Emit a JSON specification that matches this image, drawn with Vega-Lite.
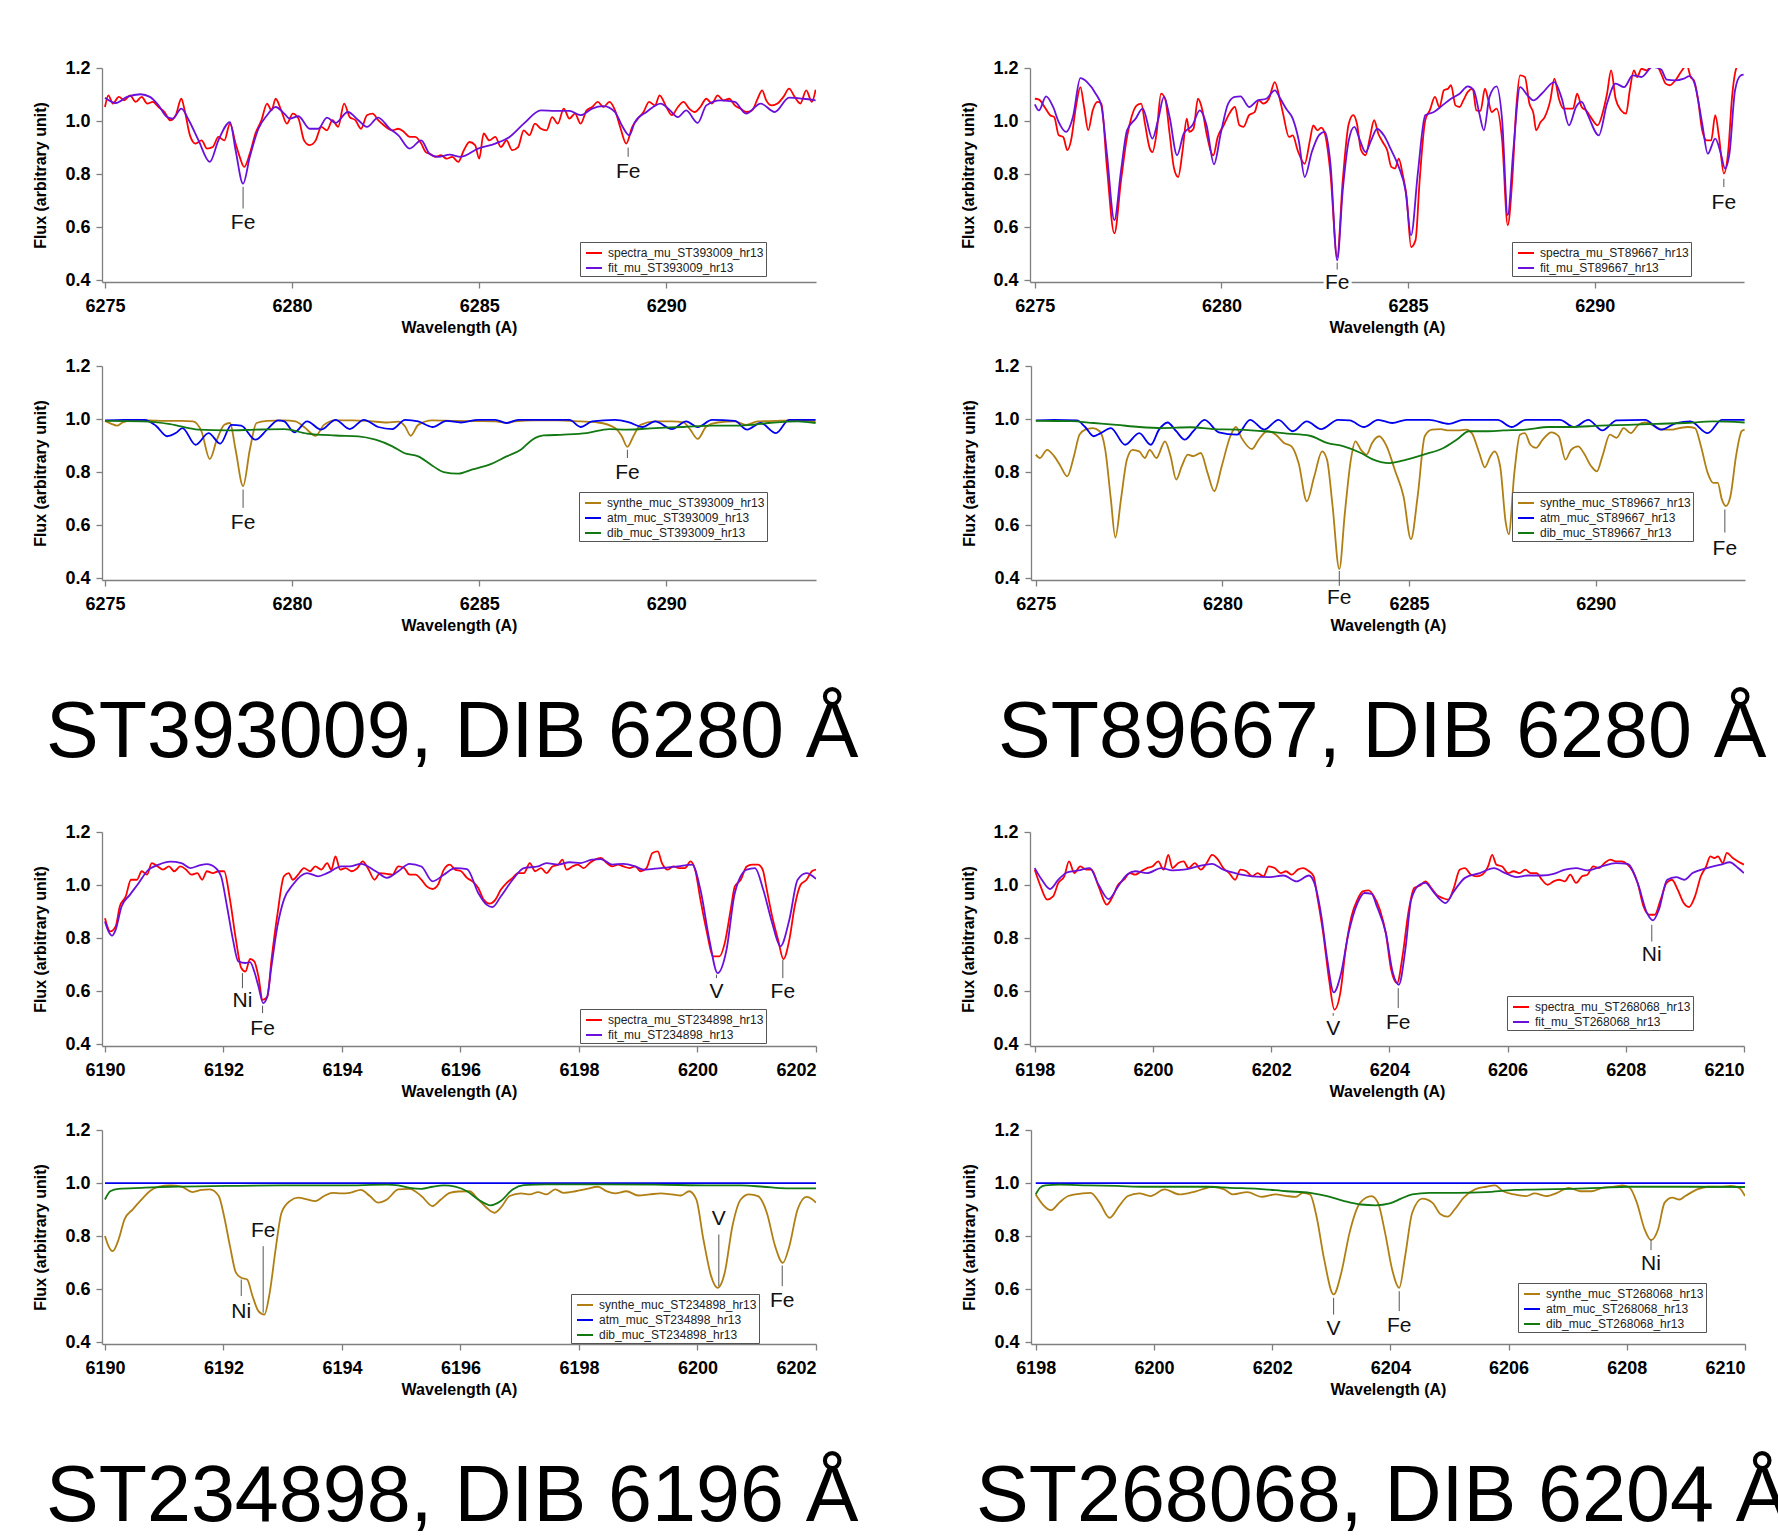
{
"$schema": "https://vega.github.io/schema/vega-lite/v6.json",
"padding": {"left": 32, "top": 59, "right": 0, "bottom": 0},
"config": {
  "view": {"stroke": null},
  "font": "Liberation Sans",
  "axis": {"grid": false, "domainColor": "#7f7f7f", "tickColor": "#7f7f7f", "domainWidth": 1.3, "tickWidth": 1.3, "tickSize": 6, "labelFont": "Liberation Sans", "labelFontSize": 18, "labelFontWeight": "bold", "labelColor": "#000000", "titleFont": "Liberation Sans", "titleFontSize": 16, "titleFontWeight": "bold", "titleColor": "#000000"},
  "axisX": {"labelPadding": 9, "titlePadding": 4},
  "axisY": {"labelPadding": 6, "titlePadding": 16},
  "legend": {"orient": "none", "symbolType": "stroke", "symbolStrokeWidth": 2, "symbolSize": 256, "symbolOffset": 3, "labelFont": "Liberation Sans", "labelFontSize": 12, "labelColor": "#222222", "fillColor": "#ffffff", "strokeColor": "#555555", "padding": 2, "rowPadding": -2, "labelOffset": 5, "labelLimit": 400},
  "title": {"font": "Liberation Sans", "fontSize": 79, "fontWeight": "normal", "color": "#000000", "orient": "bottom", "anchor": "start", "frame": "group", "baseline": "alphabetic", "offset": 62}
},
"datasets": {
"d1": [
{"s":"spectra","x":6275.00,"y":1.053},{"s":"spectra","x":6275.09,"y":1.097},{"s":"spectra","x":6275.21,"y":1.066},{"s":"spectra","x":6275.37,"y":1.091},{"s":"spectra","x":6275.52,"y":1.078},{"s":"spectra","x":6275.67,"y":1.097},{"s":"spectra","x":6275.82,"y":1.072},{"s":"spectra","x":6275.98,"y":1.091},{"s":"spectra","x":6276.13,"y":1.066},{"s":"spectra","x":6276.28,"y":1.072},{"s":"spectra","x":6276.43,"y":1.053},{"s":"spectra","x":6276.59,"y":1.034},{"s":"spectra","x":6276.74,"y":1.003},{"s":"spectra","x":6276.89,"y":1.022},{"s":"spectra","x":6277.04,"y":1.084},{"s":"spectra","x":6277.13,"y":1.040},{"s":"spectra","x":6277.27,"y":0.946},{"s":"spectra","x":6277.42,"y":0.915},{"s":"spectra","x":6277.58,"y":0.927},{"s":"spectra","x":6277.73,"y":0.896},{"s":"spectra","x":6277.88,"y":0.902},{"s":"spectra","x":6278.03,"y":0.940},{"s":"spectra","x":6278.19,"y":0.927},{"s":"spectra","x":6278.34,"y":0.990},{"s":"spectra","x":6278.49,"y":0.915},{"s":"spectra","x":6278.60,"y":0.865},{"s":"spectra","x":6278.72,"y":0.827},{"s":"spectra","x":6278.87,"y":0.877},{"s":"spectra","x":6279.02,"y":0.953},{"s":"spectra","x":6279.18,"y":1.003},{"s":"spectra","x":6279.33,"y":1.066},{"s":"spectra","x":6279.45,"y":1.040},{"s":"spectra","x":6279.56,"y":1.084},{"s":"spectra","x":6279.71,"y":1.040},{"s":"spectra","x":6279.86,"y":0.990},{"s":"spectra","x":6280.02,"y":1.028},{"s":"spectra","x":6280.17,"y":1.009},{"s":"spectra","x":6280.32,"y":0.927},{"s":"spectra","x":6280.47,"y":0.909},{"s":"spectra","x":6280.63,"y":0.927},{"s":"spectra","x":6280.78,"y":0.978},{"s":"spectra","x":6280.93,"y":0.965},{"s":"spectra","x":6281.08,"y":1.003},{"s":"spectra","x":6281.23,"y":0.978},{"s":"spectra","x":6281.39,"y":1.066},{"s":"spectra","x":6281.54,"y":1.015},{"s":"spectra","x":6281.69,"y":1.003},{"s":"spectra","x":6281.84,"y":0.971},{"s":"spectra","x":6282.00,"y":1.022},{"s":"spectra","x":6282.15,"y":1.028},{"s":"spectra","x":6282.30,"y":1.003},{"s":"spectra","x":6282.45,"y":0.984},{"s":"spectra","x":6282.68,"y":0.965},{"s":"spectra","x":6282.84,"y":0.971},{"s":"spectra","x":6282.99,"y":0.959},{"s":"spectra","x":6283.14,"y":0.940},{"s":"spectra","x":6283.29,"y":0.940},{"s":"spectra","x":6283.45,"y":0.915},{"s":"spectra","x":6283.57,"y":0.883},{"s":"spectra","x":6283.67,"y":0.877},{"s":"spectra","x":6283.83,"y":0.865},{"s":"spectra","x":6283.98,"y":0.871},{"s":"spectra","x":6284.13,"y":0.858},{"s":"spectra","x":6284.28,"y":0.865},{"s":"spectra","x":6284.44,"y":0.846},{"s":"spectra","x":6284.59,"y":0.890},{"s":"spectra","x":6284.74,"y":0.921},{"s":"spectra","x":6284.89,"y":0.909},{"s":"spectra","x":6285.00,"y":0.858},{"s":"spectra","x":6285.12,"y":0.953},{"s":"spectra","x":6285.27,"y":0.927},{"s":"spectra","x":6285.43,"y":0.940},{"s":"spectra","x":6285.58,"y":0.902},{"s":"spectra","x":6285.73,"y":0.927},{"s":"spectra","x":6285.88,"y":0.890},{"s":"spectra","x":6286.04,"y":0.902},{"s":"spectra","x":6286.19,"y":0.965},{"s":"spectra","x":6286.34,"y":0.946},{"s":"spectra","x":6286.49,"y":0.990},{"s":"spectra","x":6286.65,"y":0.971},{"s":"spectra","x":6286.80,"y":0.965},{"s":"spectra","x":6286.95,"y":1.015},{"s":"spectra","x":6287.10,"y":0.990},{"s":"spectra","x":6287.26,"y":1.047},{"s":"spectra","x":6287.41,"y":1.009},{"s":"spectra","x":6287.56,"y":1.028},{"s":"spectra","x":6287.71,"y":0.990},{"s":"spectra","x":6287.87,"y":1.040},{"s":"spectra","x":6288.02,"y":1.053},{"s":"spectra","x":6288.17,"y":1.072},{"s":"spectra","x":6288.32,"y":1.053},{"s":"spectra","x":6288.48,"y":1.072},{"s":"spectra","x":6288.63,"y":1.040},{"s":"spectra","x":6288.78,"y":0.971},{"s":"spectra","x":6288.93,"y":0.915},{"s":"spectra","x":6289.09,"y":0.978},{"s":"spectra","x":6289.24,"y":1.009},{"s":"spectra","x":6289.39,"y":1.034},{"s":"spectra","x":6289.54,"y":1.072},{"s":"spectra","x":6289.70,"y":1.059},{"s":"spectra","x":6289.82,"y":1.097},{"s":"spectra","x":6290.00,"y":1.053},{"s":"spectra","x":6290.15,"y":1.022},{"s":"spectra","x":6290.31,"y":1.053},{"s":"spectra","x":6290.46,"y":1.072},{"s":"spectra","x":6290.61,"y":1.047},{"s":"spectra","x":6290.76,"y":1.034},{"s":"spectra","x":6290.91,"y":1.053},{"s":"spectra","x":6291.07,"y":1.084},{"s":"spectra","x":6291.22,"y":1.066},{"s":"spectra","x":6291.37,"y":1.097},{"s":"spectra","x":6291.52,"y":1.078},{"s":"spectra","x":6291.68,"y":1.084},{"s":"spectra","x":6291.83,"y":1.059},{"s":"spectra","x":6291.98,"y":1.047},{"s":"spectra","x":6292.13,"y":1.034},{"s":"spectra","x":6292.29,"y":1.040},{"s":"spectra","x":6292.44,"y":1.084},{"s":"spectra","x":6292.56,"y":1.116},{"s":"spectra","x":6292.67,"y":1.078},{"s":"spectra","x":6292.82,"y":1.059},{"s":"spectra","x":6292.97,"y":1.066},{"s":"spectra","x":6293.13,"y":1.091},{"s":"spectra","x":6293.28,"y":1.122},{"s":"spectra","x":6293.43,"y":1.091},{"s":"spectra","x":6293.58,"y":1.066},{"s":"spectra","x":6293.74,"y":1.116},{"s":"spectra","x":6293.89,"y":1.072},{"s":"spectra","x":6293.99,"y":1.118},
{"s":"fit","x":6275.00,"y":1.088},{"s":"fit","x":6275.29,"y":1.068},{"s":"fit","x":6275.59,"y":1.091},{"s":"fit","x":6275.95,"y":1.101},{"s":"fit","x":6276.20,"y":1.091},{"s":"fit","x":6276.43,"y":1.059},{"s":"fit","x":6276.66,"y":1.015},{"s":"fit","x":6276.81,"y":1.009},{"s":"fit","x":6277.04,"y":1.047},{"s":"fit","x":6277.24,"y":1.003},{"s":"fit","x":6277.50,"y":0.927},{"s":"fit","x":6277.80,"y":0.846},{"s":"fit","x":6278.03,"y":0.927},{"s":"fit","x":6278.34,"y":0.996},{"s":"fit","x":6278.49,"y":0.890},{"s":"fit","x":6278.69,"y":0.764},{"s":"fit","x":6278.87,"y":0.865},{"s":"fit","x":6279.10,"y":0.971},{"s":"fit","x":6279.33,"y":1.022},{"s":"fit","x":6279.56,"y":1.053},{"s":"fit","x":6279.79,"y":1.028},{"s":"fit","x":6279.94,"y":1.009},{"s":"fit","x":6280.17,"y":1.018},{"s":"fit","x":6280.47,"y":0.971},{"s":"fit","x":6280.70,"y":0.971},{"s":"fit","x":6280.93,"y":1.013},{"s":"fit","x":6281.16,"y":0.993},{"s":"fit","x":6281.49,"y":1.034},{"s":"fit","x":6281.77,"y":1.003},{"s":"fit","x":6282.00,"y":0.978},{"s":"fit","x":6282.30,"y":1.013},{"s":"fit","x":6282.61,"y":0.971},{"s":"fit","x":6282.84,"y":0.946},{"s":"fit","x":6283.14,"y":0.896},{"s":"fit","x":6283.45,"y":0.927},{"s":"fit","x":6283.67,"y":0.877},{"s":"fit","x":6283.90,"y":0.865},{"s":"fit","x":6284.21,"y":0.873},{"s":"fit","x":6284.51,"y":0.865},{"s":"fit","x":6284.97,"y":0.896},{"s":"fit","x":6285.43,"y":0.915},{"s":"fit","x":6285.81,"y":0.940},{"s":"fit","x":6286.19,"y":0.990},{"s":"fit","x":6286.65,"y":1.040},{"s":"fit","x":6287.03,"y":1.038},{"s":"fit","x":6287.41,"y":1.038},{"s":"fit","x":6287.71,"y":1.022},{"s":"fit","x":6288.02,"y":1.047},{"s":"fit","x":6288.32,"y":1.056},{"s":"fit","x":6288.63,"y":1.034},{"s":"fit","x":6288.81,"y":0.984},{"s":"fit","x":6289.01,"y":0.946},{"s":"fit","x":6289.16,"y":0.996},{"s":"fit","x":6289.47,"y":1.034},{"s":"fit","x":6289.85,"y":1.066},{"s":"fit","x":6290.08,"y":1.043},{"s":"fit","x":6290.31,"y":1.015},{"s":"fit","x":6290.53,"y":1.040},{"s":"fit","x":6290.84,"y":0.993},{"s":"fit","x":6291.07,"y":1.059},{"s":"fit","x":6291.45,"y":1.078},{"s":"fit","x":6291.83,"y":1.072},{"s":"fit","x":6292.13,"y":1.028},{"s":"fit","x":6292.52,"y":1.066},{"s":"fit","x":6292.90,"y":1.034},{"s":"fit","x":6293.28,"y":1.088},{"s":"fit","x":6293.66,"y":1.084},{"s":"fit","x":6293.99,"y":1.078}
],
"d2": [
{"s":"spectra","x":6275.00,"y":1.084},{"s":"spectra","x":6275.11,"y":1.081},{"s":"spectra","x":6275.26,"y":1.053},{"s":"spectra","x":6275.41,"y":1.022},{"s":"spectra","x":6275.52,"y":1.015},{"s":"spectra","x":6275.64,"y":0.946},{"s":"spectra","x":6275.76,"y":0.940},{"s":"spectra","x":6275.87,"y":0.890},{"s":"spectra","x":6275.97,"y":0.927},{"s":"spectra","x":6276.10,"y":1.053},{"s":"spectra","x":6276.22,"y":1.128},{"s":"spectra","x":6276.32,"y":1.053},{"s":"spectra","x":6276.43,"y":0.965},{"s":"spectra","x":6276.55,"y":1.040},{"s":"spectra","x":6276.68,"y":1.072},{"s":"spectra","x":6276.78,"y":1.066},{"s":"spectra","x":6276.93,"y":0.827},{"s":"spectra","x":6277.13,"y":0.576},{"s":"spectra","x":6277.31,"y":0.777},{"s":"spectra","x":6277.47,"y":0.940},{"s":"spectra","x":6277.59,"y":1.015},{"s":"spectra","x":6277.73,"y":1.059},{"s":"spectra","x":6277.85,"y":1.066},{"s":"spectra","x":6277.95,"y":0.990},{"s":"spectra","x":6278.08,"y":0.896},{"s":"spectra","x":6278.15,"y":0.883},{"s":"spectra","x":6278.26,"y":0.953},{"s":"spectra","x":6278.38,"y":1.103},{"s":"spectra","x":6278.49,"y":1.084},{"s":"spectra","x":6278.61,"y":0.953},{"s":"spectra","x":6278.73,"y":0.821},{"s":"spectra","x":6278.84,"y":0.789},{"s":"spectra","x":6278.96,"y":0.890},{"s":"spectra","x":6279.07,"y":1.009},{"s":"spectra","x":6279.14,"y":0.959},{"s":"spectra","x":6279.25,"y":0.971},{"s":"spectra","x":6279.37,"y":1.084},{"s":"spectra","x":6279.49,"y":1.040},{"s":"spectra","x":6279.60,"y":0.953},{"s":"spectra","x":6279.78,"y":0.871},{"s":"spectra","x":6279.90,"y":0.940},{"s":"spectra","x":6280.06,"y":0.984},{"s":"spectra","x":6280.21,"y":1.028},{"s":"spectra","x":6280.36,"y":1.053},{"s":"spectra","x":6280.48,"y":0.984},{"s":"spectra","x":6280.59,"y":0.978},{"s":"spectra","x":6280.74,"y":1.022},{"s":"spectra","x":6280.89,"y":1.034},{"s":"spectra","x":6281.00,"y":1.078},{"s":"spectra","x":6281.12,"y":1.066},{"s":"spectra","x":6281.27,"y":1.084},{"s":"spectra","x":6281.43,"y":1.147},{"s":"spectra","x":6281.55,"y":1.091},{"s":"spectra","x":6281.65,"y":1.028},{"s":"spectra","x":6281.81,"y":0.940},{"s":"spectra","x":6281.91,"y":0.946},{"s":"spectra","x":6282.04,"y":0.890},{"s":"spectra","x":6282.23,"y":0.839},{"s":"spectra","x":6282.37,"y":0.927},{"s":"spectra","x":6282.46,"y":0.984},{"s":"spectra","x":6282.57,"y":0.965},{"s":"spectra","x":6282.67,"y":0.975},{"s":"spectra","x":6282.77,"y":0.953},{"s":"spectra","x":6282.92,"y":0.802},{"s":"spectra","x":6283.10,"y":0.488},{"s":"spectra","x":6283.25,"y":0.777},{"s":"spectra","x":6283.41,"y":0.990},{"s":"spectra","x":6283.53,"y":1.022},{"s":"spectra","x":6283.63,"y":0.990},{"s":"spectra","x":6283.74,"y":0.890},{"s":"spectra","x":6283.86,"y":0.871},{"s":"spectra","x":6283.98,"y":0.940},{"s":"spectra","x":6284.09,"y":1.003},{"s":"spectra","x":6284.20,"y":0.953},{"s":"spectra","x":6284.32,"y":0.921},{"s":"spectra","x":6284.44,"y":0.890},{"s":"spectra","x":6284.55,"y":0.827},{"s":"spectra","x":6284.65,"y":0.821},{"s":"spectra","x":6284.75,"y":0.858},{"s":"spectra","x":6284.85,"y":0.802},{"s":"spectra","x":6284.96,"y":0.714},{"s":"spectra","x":6285.08,"y":0.525},{"s":"spectra","x":6285.20,"y":0.551},{"s":"spectra","x":6285.31,"y":0.777},{"s":"spectra","x":6285.46,"y":1.003},{"s":"spectra","x":6285.58,"y":1.040},{"s":"spectra","x":6285.72,"y":1.091},{"s":"spectra","x":6285.84,"y":1.053},{"s":"spectra","x":6285.96,"y":1.116},{"s":"spectra","x":6286.07,"y":1.122},{"s":"spectra","x":6286.15,"y":1.135},{"s":"spectra","x":6286.27,"y":1.059},{"s":"spectra","x":6286.38,"y":1.053},{"s":"spectra","x":6286.48,"y":1.078},{"s":"spectra","x":6286.60,"y":1.110},{"s":"spectra","x":6286.73,"y":1.122},{"s":"spectra","x":6286.83,"y":1.040},{"s":"spectra","x":6286.94,"y":1.038},{"s":"spectra","x":6287.06,"y":1.122},{"s":"spectra","x":6287.15,"y":1.078},{"s":"spectra","x":6287.24,"y":1.034},{"s":"spectra","x":6287.37,"y":1.047},{"s":"spectra","x":6287.52,"y":0.927},{"s":"spectra","x":6287.67,"y":0.607},{"s":"spectra","x":6287.79,"y":0.777},{"s":"spectra","x":6287.90,"y":1.053},{"s":"spectra","x":6288.00,"y":1.172},{"s":"spectra","x":6288.13,"y":1.166},{"s":"spectra","x":6288.25,"y":1.066},{"s":"spectra","x":6288.36,"y":1.028},{"s":"spectra","x":6288.43,"y":0.965},{"s":"spectra","x":6288.55,"y":0.996},{"s":"spectra","x":6288.66,"y":1.015},{"s":"spectra","x":6288.81,"y":1.078},{"s":"spectra","x":6288.92,"y":1.160},{"s":"spectra","x":6289.04,"y":1.084},{"s":"spectra","x":6289.16,"y":1.047},{"s":"spectra","x":6289.27,"y":1.047},{"s":"spectra","x":6289.42,"y":1.047},{"s":"spectra","x":6289.53,"y":1.103},{"s":"spectra","x":6289.65,"y":1.053},{"s":"spectra","x":6289.77,"y":1.040},{"s":"spectra","x":6289.92,"y":1.009},{"s":"spectra","x":6290.08,"y":0.984},{"s":"spectra","x":6290.23,"y":1.040},{"s":"spectra","x":6290.33,"y":1.103},{"s":"spectra","x":6290.44,"y":1.191},{"s":"spectra","x":6290.56,"y":1.084},{"s":"spectra","x":6290.71,"y":1.040},{"s":"spectra","x":6290.84,"y":1.028},{"s":"spectra","x":6290.94,"y":1.116},{"s":"spectra","x":6291.05,"y":1.191},{"s":"spectra","x":6291.14,"y":1.166},{"s":"spectra","x":6291.25,"y":1.197},{"s":"spectra","x":6291.40,"y":1.191},{"s":"spectra","x":6291.51,"y":1.210},{"s":"spectra","x":6291.63,"y":1.216},{"s":"spectra","x":6291.78,"y":1.179},{"s":"spectra","x":6291.90,"y":1.141},{"s":"spectra","x":6292.01,"y":1.135},{"s":"spectra","x":6292.16,"y":1.153},{"s":"spectra","x":6292.31,"y":1.185},{"s":"spectra","x":6292.47,"y":1.210},{"s":"spectra","x":6292.57,"y":1.166},{"s":"spectra","x":6292.66,"y":1.153},{"s":"spectra","x":6292.77,"y":1.078},{"s":"spectra","x":6292.88,"y":0.965},{"s":"spectra","x":6293.00,"y":0.927},{"s":"spectra","x":6293.12,"y":0.927},{"s":"spectra","x":6293.23,"y":1.022},{"s":"spectra","x":6293.33,"y":0.940},{"s":"spectra","x":6293.46,"y":0.802},{"s":"spectra","x":6293.58,"y":0.890},{"s":"spectra","x":6293.68,"y":1.091},{"s":"spectra","x":6293.81,"y":1.204},{"s":"spectra","x":6293.91,"y":1.216},{"s":"spectra","x":6293.99,"y":1.216},
{"s":"fit","x":6275.00,"y":1.063},{"s":"fit","x":6275.11,"y":1.040},{"s":"fit","x":6275.30,"y":1.093},{"s":"fit","x":6275.49,"y":1.053},{"s":"fit","x":6275.64,"y":0.996},{"s":"fit","x":6275.84,"y":0.959},{"s":"fit","x":6276.02,"y":1.015},{"s":"fit","x":6276.22,"y":1.162},{"s":"fit","x":6276.40,"y":1.147},{"s":"fit","x":6276.63,"y":1.103},{"s":"fit","x":6276.78,"y":1.059},{"s":"fit","x":6276.93,"y":0.877},{"s":"fit","x":6277.13,"y":0.626},{"s":"fit","x":6277.31,"y":0.814},{"s":"fit","x":6277.47,"y":0.965},{"s":"fit","x":6277.70,"y":1.009},{"s":"fit","x":6277.89,"y":1.047},{"s":"fit","x":6278.15,"y":0.934},{"s":"fit","x":6278.30,"y":1.003},{"s":"fit","x":6278.46,"y":1.091},{"s":"fit","x":6278.61,"y":1.015},{"s":"fit","x":6278.81,"y":0.871},{"s":"fit","x":6278.99,"y":0.953},{"s":"fit","x":6279.22,"y":0.984},{"s":"fit","x":6279.42,"y":1.040},{"s":"fit","x":6279.60,"y":0.984},{"s":"fit","x":6279.80,"y":0.837},{"s":"fit","x":6279.98,"y":0.953},{"s":"fit","x":6280.18,"y":1.066},{"s":"fit","x":6280.36,"y":1.091},{"s":"fit","x":6280.51,"y":1.093},{"s":"fit","x":6280.74,"y":1.053},{"s":"fit","x":6280.97,"y":1.078},{"s":"fit","x":6281.20,"y":1.084},{"s":"fit","x":6281.43,"y":1.116},{"s":"fit","x":6281.58,"y":1.084},{"s":"fit","x":6281.73,"y":1.047},{"s":"fit","x":6281.91,"y":1.009},{"s":"fit","x":6282.07,"y":0.927},{"s":"fit","x":6282.23,"y":0.789},{"s":"fit","x":6282.42,"y":0.883},{"s":"fit","x":6282.61,"y":0.946},{"s":"fit","x":6282.77,"y":0.959},{"s":"fit","x":6282.92,"y":0.839},{"s":"fit","x":6283.10,"y":0.475},{"s":"fit","x":6283.25,"y":0.739},{"s":"fit","x":6283.41,"y":0.927},{"s":"fit","x":6283.56,"y":0.978},{"s":"fit","x":6283.71,"y":0.927},{"s":"fit","x":6283.86,"y":0.883},{"s":"fit","x":6284.01,"y":0.927},{"s":"fit","x":6284.17,"y":0.971},{"s":"fit","x":6284.35,"y":0.946},{"s":"fit","x":6284.55,"y":0.890},{"s":"fit","x":6284.75,"y":0.827},{"s":"fit","x":6284.93,"y":0.739},{"s":"fit","x":6285.08,"y":0.569},{"s":"fit","x":6285.26,"y":0.802},{"s":"fit","x":6285.46,"y":1.022},{"s":"fit","x":6285.69,"y":1.034},{"s":"fit","x":6285.92,"y":1.059},{"s":"fit","x":6286.15,"y":1.084},{"s":"fit","x":6286.38,"y":1.103},{"s":"fit","x":6286.60,"y":1.131},{"s":"fit","x":6286.76,"y":1.116},{"s":"fit","x":6286.91,"y":1.028},{"s":"fit","x":6287.03,"y":0.965},{"s":"fit","x":6287.18,"y":1.091},{"s":"fit","x":6287.37,"y":1.131},{"s":"fit","x":6287.52,"y":1.003},{"s":"fit","x":6287.67,"y":0.645},{"s":"fit","x":6287.82,"y":0.890},{"s":"fit","x":6288.00,"y":1.128},{"s":"fit","x":6288.20,"y":1.097},{"s":"fit","x":6288.36,"y":1.078},{"s":"fit","x":6288.58,"y":1.103},{"s":"fit","x":6288.92,"y":1.147},{"s":"fit","x":6289.12,"y":1.084},{"s":"fit","x":6289.31,"y":0.984},{"s":"fit","x":6289.50,"y":1.053},{"s":"fit","x":6289.65,"y":1.072},{"s":"fit","x":6289.80,"y":1.028},{"s":"fit","x":6290.11,"y":0.946},{"s":"fit","x":6290.33,"y":1.066},{"s":"fit","x":6290.56,"y":1.141},{"s":"fit","x":6290.79,"y":1.128},{"s":"fit","x":6291.02,"y":1.172},{"s":"fit","x":6291.25,"y":1.166},{"s":"fit","x":6291.55,"y":1.204},{"s":"fit","x":6291.78,"y":1.194},{"s":"fit","x":6291.93,"y":1.156},{"s":"fit","x":6292.16,"y":1.153},{"s":"fit","x":6292.39,"y":1.160},{"s":"fit","x":6292.54,"y":1.169},{"s":"fit","x":6292.69,"y":1.135},{"s":"fit","x":6292.88,"y":0.990},{"s":"fit","x":6293.03,"y":0.877},{"s":"fit","x":6293.23,"y":0.934},{"s":"fit","x":6293.38,"y":0.877},{"s":"fit","x":6293.49,"y":0.821},{"s":"fit","x":6293.61,"y":0.877},{"s":"fit","x":6293.76,"y":1.116},{"s":"fit","x":6293.91,"y":1.172},{"s":"fit","x":6293.99,"y":1.175}
],
"d3": [
{"s":"synthe","x":6275.00,"y":0.993},{"s":"synthe","x":6275.17,"y":0.982},{"s":"synthe","x":6275.32,"y":0.975},{"s":"synthe","x":6275.47,"y":0.987},{"s":"synthe","x":6275.75,"y":0.995},{"s":"synthe","x":6276.13,"y":0.995},{"s":"synthe","x":6276.59,"y":0.993},{"s":"synthe","x":6277.04,"y":0.993},{"s":"synthe","x":6277.35,"y":0.991},{"s":"synthe","x":6277.58,"y":0.953},{"s":"synthe","x":6277.80,"y":0.849},{"s":"synthe","x":6277.99,"y":0.922},{"s":"synthe","x":6278.19,"y":0.978},{"s":"synthe","x":6278.34,"y":0.985},{"s":"synthe","x":6278.49,"y":0.884},{"s":"synthe","x":6278.69,"y":0.747},{"s":"synthe","x":6278.87,"y":0.884},{"s":"synthe","x":6279.05,"y":0.985},{"s":"synthe","x":6279.33,"y":0.993},{"s":"synthe","x":6279.79,"y":0.995},{"s":"synthe","x":6280.09,"y":0.991},{"s":"synthe","x":6280.32,"y":0.970},{"s":"synthe","x":6280.63,"y":0.937},{"s":"synthe","x":6280.85,"y":0.978},{"s":"synthe","x":6281.16,"y":0.995},{"s":"synthe","x":6281.62,"y":0.995},{"s":"synthe","x":6282.07,"y":0.992},{"s":"synthe","x":6282.53,"y":0.987},{"s":"synthe","x":6282.84,"y":0.990},{"s":"synthe","x":6283.02,"y":0.972},{"s":"synthe","x":6283.17,"y":0.937},{"s":"synthe","x":6283.37,"y":0.978},{"s":"synthe","x":6283.75,"y":0.995},{"s":"synthe","x":6284.36,"y":0.993},{"s":"synthe","x":6284.97,"y":0.992},{"s":"synthe","x":6285.43,"y":0.991},{"s":"synthe","x":6285.73,"y":0.985},{"s":"synthe","x":6285.96,"y":0.991},{"s":"synthe","x":6286.49,"y":0.995},{"s":"synthe","x":6287.10,"y":0.995},{"s":"synthe","x":6287.71,"y":0.991},{"s":"synthe","x":6288.17,"y":0.987},{"s":"synthe","x":6288.63,"y":0.966},{"s":"synthe","x":6288.81,"y":0.935},{"s":"synthe","x":6288.96,"y":0.895},{"s":"synthe","x":6289.12,"y":0.935},{"s":"synthe","x":6289.31,"y":0.978},{"s":"synthe","x":6289.70,"y":0.991},{"s":"synthe","x":6290.15,"y":0.991},{"s":"synthe","x":6290.46,"y":0.987},{"s":"synthe","x":6290.64,"y":0.960},{"s":"synthe","x":6290.84,"y":0.925},{"s":"synthe","x":6291.07,"y":0.972},{"s":"synthe","x":6291.37,"y":0.987},{"s":"synthe","x":6291.83,"y":0.991},{"s":"synthe","x":6292.13,"y":0.978},{"s":"synthe","x":6292.44,"y":0.991},{"s":"synthe","x":6292.90,"y":0.993},{"s":"synthe","x":6293.35,"y":0.995},{"s":"synthe","x":6293.99,"y":0.991},
{"s":"atm","x":6275.00,"y":0.995},{"s":"atm","x":6275.52,"y":0.997},{"s":"atm","x":6276.05,"y":0.997},{"s":"atm","x":6276.36,"y":0.975},{"s":"atm","x":6276.66,"y":0.935},{"s":"atm","x":6276.89,"y":0.947},{"s":"atm","x":6277.07,"y":0.966},{"s":"atm","x":6277.42,"y":0.903},{"s":"atm","x":6277.77,"y":0.947},{"s":"atm","x":6278.08,"y":0.907},{"s":"atm","x":6278.38,"y":0.978},{"s":"atm","x":6278.64,"y":0.975},{"s":"atm","x":6279.02,"y":0.922},{"s":"atm","x":6279.33,"y":0.960},{"s":"atm","x":6279.63,"y":0.995},{"s":"atm","x":6279.79,"y":0.991},{"s":"atm","x":6280.06,"y":0.950},{"s":"atm","x":6280.40,"y":0.991},{"s":"atm","x":6280.78,"y":0.960},{"s":"atm","x":6281.16,"y":0.997},{"s":"atm","x":6281.54,"y":0.962},{"s":"atm","x":6281.92,"y":0.997},{"s":"atm","x":6282.30,"y":0.970},{"s":"atm","x":6282.68,"y":0.962},{"s":"atm","x":6283.02,"y":0.997},{"s":"atm","x":6283.37,"y":0.991},{"s":"atm","x":6283.75,"y":0.970},{"s":"atm","x":6284.13,"y":0.993},{"s":"atm","x":6284.51,"y":0.987},{"s":"atm","x":6284.97,"y":0.997},{"s":"atm","x":6285.43,"y":0.997},{"s":"atm","x":6285.73,"y":0.985},{"s":"atm","x":6286.04,"y":0.997},{"s":"atm","x":6287.41,"y":0.997},{"s":"atm","x":6287.71,"y":0.970},{"s":"atm","x":6288.02,"y":0.991},{"s":"atm","x":6288.63,"y":0.997},{"s":"atm","x":6289.01,"y":0.987},{"s":"atm","x":6289.36,"y":0.970},{"s":"atm","x":6289.70,"y":0.991},{"s":"atm","x":6290.15,"y":0.962},{"s":"atm","x":6290.53,"y":0.991},{"s":"atm","x":6290.84,"y":0.970},{"s":"atm","x":6291.22,"y":0.997},{"s":"atm","x":6291.83,"y":0.993},{"s":"atm","x":6292.16,"y":0.960},{"s":"atm","x":6292.52,"y":0.985},{"s":"atm","x":6292.93,"y":0.947},{"s":"atm","x":6293.28,"y":0.997},{"s":"atm","x":6293.99,"y":0.997},
{"s":"dib","x":6275.00,"y":0.993},{"s":"dib","x":6275.98,"y":0.991},{"s":"dib","x":6276.74,"y":0.981},{"s":"dib","x":6277.50,"y":0.960},{"s":"dib","x":6278.26,"y":0.957},{"s":"dib","x":6279.02,"y":0.960},{"s":"dib","x":6279.79,"y":0.962},{"s":"dib","x":6280.40,"y":0.945},{"s":"dib","x":6281.16,"y":0.938},{"s":"dib","x":6281.77,"y":0.935},{"s":"dib","x":6282.23,"y":0.922},{"s":"dib","x":6282.68,"y":0.897},{"s":"dib","x":6282.99,"y":0.872},{"s":"dib","x":6283.37,"y":0.859},{"s":"dib","x":6283.75,"y":0.824},{"s":"dib","x":6284.05,"y":0.800},{"s":"dib","x":6284.44,"y":0.794},{"s":"dib","x":6284.82,"y":0.810},{"s":"dib","x":6285.27,"y":0.828},{"s":"dib","x":6285.73,"y":0.859},{"s":"dib","x":6286.11,"y":0.884},{"s":"dib","x":6286.42,"y":0.922},{"s":"dib","x":6286.72,"y":0.938},{"s":"dib","x":6287.26,"y":0.941},{"s":"dib","x":6287.87,"y":0.947},{"s":"dib","x":6288.48,"y":0.962},{"s":"dib","x":6288.93,"y":0.960},{"s":"dib","x":6289.70,"y":0.966},{"s":"dib","x":6290.46,"y":0.970},{"s":"dib","x":6291.22,"y":0.975},{"s":"dib","x":6291.98,"y":0.975},{"s":"dib","x":6292.74,"y":0.985},{"s":"dib","x":6293.51,"y":0.991},{"s":"dib","x":6293.99,"y":0.985}
],
"d4": [
{"s":"synthe","x":6275.00,"y":0.866},{"s":"synthe","x":6275.11,"y":0.853},{"s":"synthe","x":6275.30,"y":0.884},{"s":"synthe","x":6275.49,"y":0.860},{"s":"synthe","x":6275.64,"y":0.828},{"s":"synthe","x":6275.84,"y":0.784},{"s":"synthe","x":6276.02,"y":0.860},{"s":"synthe","x":6276.17,"y":0.941},{"s":"synthe","x":6276.32,"y":0.960},{"s":"synthe","x":6276.52,"y":0.966},{"s":"synthe","x":6276.71,"y":0.954},{"s":"synthe","x":6276.86,"y":0.884},{"s":"synthe","x":6277.01,"y":0.697},{"s":"synthe","x":6277.13,"y":0.553},{"s":"synthe","x":6277.28,"y":0.697},{"s":"synthe","x":6277.44,"y":0.847},{"s":"synthe","x":6277.59,"y":0.884},{"s":"synthe","x":6277.77,"y":0.878},{"s":"synthe","x":6277.92,"y":0.853},{"s":"synthe","x":6278.05,"y":0.884},{"s":"synthe","x":6278.23,"y":0.853},{"s":"synthe","x":6278.46,"y":0.916},{"s":"synthe","x":6278.61,"y":0.860},{"s":"synthe","x":6278.76,"y":0.772},{"s":"synthe","x":6278.91,"y":0.822},{"s":"synthe","x":6279.07,"y":0.866},{"s":"synthe","x":6279.22,"y":0.860},{"s":"synthe","x":6279.42,"y":0.872},{"s":"synthe","x":6279.60,"y":0.797},{"s":"synthe","x":6279.78,"y":0.728},{"s":"synthe","x":6279.98,"y":0.822},{"s":"synthe","x":6280.21,"y":0.935},{"s":"synthe","x":6280.36,"y":0.970},{"s":"synthe","x":6280.51,"y":0.929},{"s":"synthe","x":6280.79,"y":0.887},{"s":"synthe","x":6280.97,"y":0.922},{"s":"synthe","x":6281.20,"y":0.954},{"s":"synthe","x":6281.43,"y":0.941},{"s":"synthe","x":6281.65,"y":0.910},{"s":"synthe","x":6281.85,"y":0.897},{"s":"synthe","x":6282.04,"y":0.834},{"s":"synthe","x":6282.26,"y":0.690},{"s":"synthe","x":6282.46,"y":0.784},{"s":"synthe","x":6282.67,"y":0.878},{"s":"synthe","x":6282.80,"y":0.847},{"s":"synthe","x":6282.95,"y":0.672},{"s":"synthe","x":6283.13,"y":0.434},{"s":"synthe","x":6283.28,"y":0.647},{"s":"synthe","x":6283.44,"y":0.847},{"s":"synthe","x":6283.56,"y":0.916},{"s":"synthe","x":6283.71,"y":0.884},{"s":"synthe","x":6283.86,"y":0.866},{"s":"synthe","x":6284.01,"y":0.910},{"s":"synthe","x":6284.20,"y":0.935},{"s":"synthe","x":6284.40,"y":0.897},{"s":"synthe","x":6284.62,"y":0.807},{"s":"synthe","x":6284.85,"y":0.709},{"s":"synthe","x":6285.05,"y":0.547},{"s":"synthe","x":6285.23,"y":0.709},{"s":"synthe","x":6285.42,"y":0.935},{"s":"synthe","x":6285.61,"y":0.960},{"s":"synthe","x":6285.84,"y":0.962},{"s":"synthe","x":6286.07,"y":0.957},{"s":"synthe","x":6286.30,"y":0.957},{"s":"synthe","x":6286.53,"y":0.960},{"s":"synthe","x":6286.68,"y":0.947},{"s":"synthe","x":6286.88,"y":0.872},{"s":"synthe","x":6287.03,"y":0.818},{"s":"synthe","x":6287.18,"y":0.860},{"s":"synthe","x":6287.29,"y":0.878},{"s":"synthe","x":6287.44,"y":0.822},{"s":"synthe","x":6287.59,"y":0.609},{"s":"synthe","x":6287.67,"y":0.565},{"s":"synthe","x":6287.82,"y":0.797},{"s":"synthe","x":6287.97,"y":0.941},{"s":"synthe","x":6288.10,"y":0.947},{"s":"synthe","x":6288.25,"y":0.903},{"s":"synthe","x":6288.40,"y":0.891},{"s":"synthe","x":6288.58,"y":0.922},{"s":"synthe","x":6288.81,"y":0.950},{"s":"synthe","x":6289.01,"y":0.935},{"s":"synthe","x":6289.19,"y":0.847},{"s":"synthe","x":6289.34,"y":0.884},{"s":"synthe","x":6289.53,"y":0.897},{"s":"synthe","x":6289.68,"y":0.872},{"s":"synthe","x":6289.88,"y":0.822},{"s":"synthe","x":6290.03,"y":0.803},{"s":"synthe","x":6290.18,"y":0.860},{"s":"synthe","x":6290.38,"y":0.941},{"s":"synthe","x":6290.56,"y":0.929},{"s":"synthe","x":6290.75,"y":0.966},{"s":"synthe","x":6290.94,"y":0.947},{"s":"synthe","x":6291.14,"y":0.978},{"s":"synthe","x":6291.32,"y":0.987},{"s":"synthe","x":6291.55,"y":0.975},{"s":"synthe","x":6291.78,"y":0.960},{"s":"synthe","x":6292.01,"y":0.960},{"s":"synthe","x":6292.24,"y":0.966},{"s":"synthe","x":6292.47,"y":0.970},{"s":"synthe","x":6292.66,"y":0.966},{"s":"synthe","x":6292.82,"y":0.897},{"s":"synthe","x":6293.00,"y":0.797},{"s":"synthe","x":6293.15,"y":0.759},{"s":"synthe","x":6293.27,"y":0.759},{"s":"synthe","x":6293.38,"y":0.697},{"s":"synthe","x":6293.49,"y":0.672},{"s":"synthe","x":6293.61,"y":0.709},{"s":"synthe","x":6293.76,"y":0.860},{"s":"synthe","x":6293.91,"y":0.954},{"s":"synthe","x":6293.99,"y":0.960},
{"s":"atm","x":6275.00,"y":0.995},{"s":"atm","x":6275.49,"y":0.997},{"s":"atm","x":6276.10,"y":0.995},{"s":"atm","x":6276.32,"y":0.970},{"s":"atm","x":6276.55,"y":0.935},{"s":"atm","x":6276.74,"y":0.947},{"s":"atm","x":6277.01,"y":0.966},{"s":"atm","x":6277.39,"y":0.903},{"s":"atm","x":6277.77,"y":0.947},{"s":"atm","x":6278.08,"y":0.903},{"s":"atm","x":6278.30,"y":0.960},{"s":"atm","x":6278.53,"y":0.987},{"s":"atm","x":6278.76,"y":0.954},{"s":"atm","x":6278.99,"y":0.922},{"s":"atm","x":6279.22,"y":0.954},{"s":"atm","x":6279.52,"y":0.997},{"s":"atm","x":6279.90,"y":0.950},{"s":"atm","x":6280.39,"y":0.941},{"s":"atm","x":6280.74,"y":0.997},{"s":"atm","x":6281.12,"y":0.960},{"s":"atm","x":6281.50,"y":0.997},{"s":"atm","x":6281.88,"y":0.954},{"s":"atm","x":6282.26,"y":0.991},{"s":"atm","x":6282.64,"y":0.962},{"s":"atm","x":6283.10,"y":0.997},{"s":"atm","x":6283.41,"y":0.995},{"s":"atm","x":6283.79,"y":0.970},{"s":"atm","x":6284.17,"y":0.997},{"s":"atm","x":6284.55,"y":0.985},{"s":"atm","x":6284.93,"y":0.997},{"s":"atm","x":6285.54,"y":0.997},{"s":"atm","x":6286.07,"y":0.982},{"s":"atm","x":6286.45,"y":0.997},{"s":"atm","x":6287.37,"y":0.997},{"s":"atm","x":6287.75,"y":0.970},{"s":"atm","x":6288.13,"y":0.997},{"s":"atm","x":6289.04,"y":0.997},{"s":"atm","x":6289.42,"y":0.970},{"s":"atm","x":6289.80,"y":0.997},{"s":"atm","x":6290.18,"y":0.957},{"s":"atm","x":6290.56,"y":0.995},{"s":"atm","x":6291.32,"y":0.997},{"s":"atm","x":6291.75,"y":0.960},{"s":"atm","x":6292.16,"y":0.985},{"s":"atm","x":6292.54,"y":0.991},{"s":"atm","x":6293.00,"y":0.947},{"s":"atm","x":6293.38,"y":0.997},{"s":"atm","x":6293.99,"y":0.997},
{"s":"dib","x":6275.00,"y":0.993},{"s":"dib","x":6275.94,"y":0.992},{"s":"dib","x":6276.55,"y":0.985},{"s":"dib","x":6277.16,"y":0.978},{"s":"dib","x":6277.77,"y":0.970},{"s":"dib","x":6278.38,"y":0.966},{"s":"dib","x":6279.14,"y":0.969},{"s":"dib","x":6279.75,"y":0.962},{"s":"dib","x":6280.36,"y":0.960},{"s":"dib","x":6281.12,"y":0.954},{"s":"dib","x":6281.73,"y":0.945},{"s":"dib","x":6282.34,"y":0.937},{"s":"dib","x":6282.80,"y":0.910},{"s":"dib","x":6283.25,"y":0.897},{"s":"dib","x":6283.71,"y":0.872},{"s":"dib","x":6284.01,"y":0.849},{"s":"dib","x":6284.47,"y":0.834},{"s":"dib","x":6284.93,"y":0.847},{"s":"dib","x":6285.39,"y":0.866},{"s":"dib","x":6285.92,"y":0.891},{"s":"dib","x":6286.30,"y":0.925},{"s":"dib","x":6286.60,"y":0.954},{"s":"dib","x":6287.06,"y":0.954},{"s":"dib","x":6287.52,"y":0.957},{"s":"dib","x":6288.13,"y":0.960},{"s":"dib","x":6288.74,"y":0.970},{"s":"dib","x":6289.34,"y":0.970},{"s":"dib","x":6290.11,"y":0.975},{"s":"dib","x":6290.87,"y":0.978},{"s":"dib","x":6291.63,"y":0.982},{"s":"dib","x":6292.39,"y":0.985},{"s":"dib","x":6293.15,"y":0.991},{"s":"dib","x":6293.99,"y":0.987}
],
"d5": [
{"s":"spectra","x":6190.00,"y":0.875},{"s":"spectra","x":6190.09,"y":0.825},{"s":"spectra","x":6190.18,"y":0.844},{"s":"spectra","x":6190.25,"y":0.919},{"s":"spectra","x":6190.35,"y":0.957},{"s":"spectra","x":6190.44,"y":1.020},{"s":"spectra","x":6190.54,"y":1.020},{"s":"spectra","x":6190.62,"y":1.052},{"s":"spectra","x":6190.71,"y":1.039},{"s":"spectra","x":6190.79,"y":1.083},{"s":"spectra","x":6190.89,"y":1.070},{"s":"spectra","x":6190.98,"y":1.058},{"s":"spectra","x":6191.08,"y":1.070},{"s":"spectra","x":6191.17,"y":1.052},{"s":"spectra","x":6191.27,"y":1.070},{"s":"spectra","x":6191.37,"y":1.058},{"s":"spectra","x":6191.46,"y":1.039},{"s":"spectra","x":6191.56,"y":1.045},{"s":"spectra","x":6191.64,"y":1.020},{"s":"spectra","x":6191.72,"y":1.052},{"s":"spectra","x":6191.82,"y":1.045},{"s":"spectra","x":6191.92,"y":1.052},{"s":"spectra","x":6192.01,"y":1.052},{"s":"spectra","x":6192.11,"y":0.945},{"s":"spectra","x":6192.21,"y":0.794},{"s":"spectra","x":6192.30,"y":0.687},{"s":"spectra","x":6192.37,"y":0.674},{"s":"spectra","x":6192.45,"y":0.721},{"s":"spectra","x":6192.52,"y":0.712},{"s":"spectra","x":6192.59,"y":0.655},{"s":"spectra","x":6192.66,"y":0.567},{"s":"spectra","x":6192.74,"y":0.580},{"s":"spectra","x":6192.81,"y":0.718},{"s":"spectra","x":6192.91,"y":0.888},{"s":"spectra","x":6193.02,"y":1.033},{"s":"spectra","x":6193.10,"y":1.045},{"s":"spectra","x":6193.17,"y":1.020},{"s":"spectra","x":6193.26,"y":1.039},{"s":"spectra","x":6193.36,"y":1.064},{"s":"spectra","x":6193.46,"y":1.052},{"s":"spectra","x":6193.55,"y":1.070},{"s":"spectra","x":6193.65,"y":1.058},{"s":"spectra","x":6193.75,"y":1.083},{"s":"spectra","x":6193.82,"y":1.058},{"s":"spectra","x":6193.89,"y":1.108},{"s":"spectra","x":6193.97,"y":1.058},{"s":"spectra","x":6194.06,"y":1.064},{"s":"spectra","x":6194.16,"y":1.052},{"s":"spectra","x":6194.26,"y":1.064},{"s":"spectra","x":6194.35,"y":1.089},{"s":"spectra","x":6194.45,"y":1.058},{"s":"spectra","x":6194.55,"y":1.020},{"s":"spectra","x":6194.64,"y":1.045},{"s":"spectra","x":6194.76,"y":1.042},{"s":"spectra","x":6194.85,"y":1.039},{"s":"spectra","x":6194.95,"y":1.070},{"s":"spectra","x":6195.05,"y":1.064},{"s":"spectra","x":6195.14,"y":1.039},{"s":"spectra","x":6195.24,"y":1.039},{"s":"spectra","x":6195.34,"y":1.020},{"s":"spectra","x":6195.43,"y":0.995},{"s":"spectra","x":6195.53,"y":0.985},{"s":"spectra","x":6195.62,"y":1.001},{"s":"spectra","x":6195.72,"y":1.058},{"s":"spectra","x":6195.82,"y":1.077},{"s":"spectra","x":6195.91,"y":1.058},{"s":"spectra","x":6196.01,"y":1.052},{"s":"spectra","x":6196.11,"y":1.027},{"s":"spectra","x":6196.20,"y":1.014},{"s":"spectra","x":6196.30,"y":0.989},{"s":"spectra","x":6196.39,"y":0.945},{"s":"spectra","x":6196.49,"y":0.930},{"s":"spectra","x":6196.59,"y":0.945},{"s":"spectra","x":6196.68,"y":0.982},{"s":"spectra","x":6196.78,"y":1.008},{"s":"spectra","x":6196.88,"y":1.027},{"s":"spectra","x":6196.97,"y":1.045},{"s":"spectra","x":6197.07,"y":1.045},{"s":"spectra","x":6197.17,"y":1.083},{"s":"spectra","x":6197.26,"y":1.052},{"s":"spectra","x":6197.36,"y":1.064},{"s":"spectra","x":6197.45,"y":1.045},{"s":"spectra","x":6197.55,"y":1.070},{"s":"spectra","x":6197.65,"y":1.077},{"s":"spectra","x":6197.72,"y":1.096},{"s":"spectra","x":6197.79,"y":1.058},{"s":"spectra","x":6197.89,"y":1.070},{"s":"spectra","x":6197.98,"y":1.077},{"s":"spectra","x":6198.08,"y":1.064},{"s":"spectra","x":6198.18,"y":1.083},{"s":"spectra","x":6198.27,"y":1.096},{"s":"spectra","x":6198.37,"y":1.102},{"s":"spectra","x":6198.47,"y":1.083},{"s":"spectra","x":6198.56,"y":1.070},{"s":"spectra","x":6198.66,"y":1.077},{"s":"spectra","x":6198.75,"y":1.070},{"s":"spectra","x":6198.85,"y":1.064},{"s":"spectra","x":6198.95,"y":1.070},{"s":"spectra","x":6199.04,"y":1.052},{"s":"spectra","x":6199.14,"y":1.064},{"s":"spectra","x":6199.24,"y":1.121},{"s":"spectra","x":6199.33,"y":1.127},{"s":"spectra","x":6199.40,"y":1.083},{"s":"spectra","x":6199.50,"y":1.058},{"s":"spectra","x":6199.59,"y":1.070},{"s":"spectra","x":6199.69,"y":1.064},{"s":"spectra","x":6199.79,"y":1.064},{"s":"spectra","x":6199.88,"y":1.089},{"s":"spectra","x":6199.96,"y":1.058},{"s":"spectra","x":6200.05,"y":0.945},{"s":"spectra","x":6200.15,"y":0.831},{"s":"spectra","x":6200.27,"y":0.731},{"s":"spectra","x":6200.37,"y":0.731},{"s":"spectra","x":6200.46,"y":0.781},{"s":"spectra","x":6200.56,"y":0.907},{"s":"spectra","x":6200.63,"y":0.995},{"s":"spectra","x":6200.73,"y":1.020},{"s":"spectra","x":6200.83,"y":1.070},{"s":"spectra","x":6200.92,"y":1.077},{"s":"spectra","x":6201.02,"y":1.077},{"s":"spectra","x":6201.10,"y":1.058},{"s":"spectra","x":6201.17,"y":0.982},{"s":"spectra","x":6201.26,"y":0.882},{"s":"spectra","x":6201.36,"y":0.794},{"s":"spectra","x":6201.45,"y":0.721},{"s":"spectra","x":6201.55,"y":0.794},{"s":"spectra","x":6201.64,"y":0.919},{"s":"spectra","x":6201.74,"y":1.001},{"s":"spectra","x":6201.84,"y":1.020},{"s":"spectra","x":6201.93,"y":1.052},{"s":"spectra","x":6202.00,"y":1.058},
{"s":"fit","x":6190.00,"y":0.863},{"s":"fit","x":6190.06,"y":0.825},{"s":"fit","x":6190.12,"y":0.809},{"s":"fit","x":6190.18,"y":0.831},{"s":"fit","x":6190.28,"y":0.919},{"s":"fit","x":6190.42,"y":0.963},{"s":"fit","x":6190.57,"y":1.008},{"s":"fit","x":6190.71,"y":1.052},{"s":"fit","x":6190.91,"y":1.077},{"s":"fit","x":6191.10,"y":1.088},{"s":"fit","x":6191.29,"y":1.083},{"s":"fit","x":6191.44,"y":1.064},{"s":"fit","x":6191.58,"y":1.073},{"s":"fit","x":6191.72,"y":1.079},{"s":"fit","x":6191.87,"y":1.064},{"s":"fit","x":6191.96,"y":1.033},{"s":"fit","x":6192.06,"y":0.919},{"s":"fit","x":6192.16,"y":0.794},{"s":"fit","x":6192.25,"y":0.712},{"s":"fit","x":6192.37,"y":0.706},{"s":"fit","x":6192.45,"y":0.709},{"s":"fit","x":6192.52,"y":0.674},{"s":"fit","x":6192.59,"y":0.618},{"s":"fit","x":6192.67,"y":0.555},{"s":"fit","x":6192.74,"y":0.580},{"s":"fit","x":6192.81,"y":0.693},{"s":"fit","x":6192.91,"y":0.844},{"s":"fit","x":6193.02,"y":0.945},{"s":"fit","x":6193.17,"y":1.001},{"s":"fit","x":6193.41,"y":1.045},{"s":"fit","x":6193.60,"y":1.033},{"s":"fit","x":6193.75,"y":1.045},{"s":"fit","x":6193.99,"y":1.070},{"s":"fit","x":6194.13,"y":1.070},{"s":"fit","x":6194.32,"y":1.080},{"s":"fit","x":6194.57,"y":1.052},{"s":"fit","x":6194.76,"y":1.027},{"s":"fit","x":6194.95,"y":1.052},{"s":"fit","x":6195.14,"y":1.080},{"s":"fit","x":6195.34,"y":1.070},{"s":"fit","x":6195.53,"y":1.014},{"s":"fit","x":6195.72,"y":1.039},{"s":"fit","x":6195.91,"y":1.064},{"s":"fit","x":6196.11,"y":1.060},{"s":"fit","x":6196.30,"y":0.970},{"s":"fit","x":6196.44,"y":0.926},{"s":"fit","x":6196.54,"y":0.917},{"s":"fit","x":6196.68,"y":0.957},{"s":"fit","x":6196.88,"y":1.020},{"s":"fit","x":6197.07,"y":1.064},{"s":"fit","x":6197.31,"y":1.070},{"s":"fit","x":6197.45,"y":1.083},{"s":"fit","x":6197.65,"y":1.077},{"s":"fit","x":6197.84,"y":1.086},{"s":"fit","x":6198.03,"y":1.083},{"s":"fit","x":6198.22,"y":1.096},{"s":"fit","x":6198.37,"y":1.098},{"s":"fit","x":6198.56,"y":1.077},{"s":"fit","x":6198.75,"y":1.080},{"s":"fit","x":6198.95,"y":1.070},{"s":"fit","x":6199.09,"y":1.058},{"s":"fit","x":6199.38,"y":1.064},{"s":"fit","x":6199.67,"y":1.070},{"s":"fit","x":6199.91,"y":1.077},{"s":"fit","x":6200.05,"y":0.982},{"s":"fit","x":6200.20,"y":0.794},{"s":"fit","x":6200.34,"y":0.668},{"s":"fit","x":6200.49,"y":0.756},{"s":"fit","x":6200.63,"y":0.970},{"s":"fit","x":6200.83,"y":1.058},{"s":"fit","x":6200.97,"y":1.064},{"s":"fit","x":6201.11,"y":0.982},{"s":"fit","x":6201.26,"y":0.857},{"s":"fit","x":6201.40,"y":0.769},{"s":"fit","x":6201.55,"y":0.869},{"s":"fit","x":6201.69,"y":1.020},{"s":"fit","x":6201.84,"y":1.045},{"s":"fit","x":6202.00,"y":1.023}
],
"d6": [
{"s":"spectra","x":6198.00,"y":1.058},{"s":"spectra","x":6198.10,"y":0.995},{"s":"spectra","x":6198.21,"y":0.945},{"s":"spectra","x":6198.31,"y":0.957},{"s":"spectra","x":6198.40,"y":1.008},{"s":"spectra","x":6198.50,"y":1.033},{"s":"spectra","x":6198.58,"y":1.089},{"s":"spectra","x":6198.67,"y":1.045},{"s":"spectra","x":6198.77,"y":1.070},{"s":"spectra","x":6198.87,"y":1.058},{"s":"spectra","x":6198.96,"y":1.058},{"s":"spectra","x":6199.08,"y":0.995},{"s":"spectra","x":6199.22,"y":0.926},{"s":"spectra","x":6199.32,"y":0.957},{"s":"spectra","x":6199.41,"y":1.001},{"s":"spectra","x":6199.51,"y":1.020},{"s":"spectra","x":6199.61,"y":1.045},{"s":"spectra","x":6199.70,"y":1.039},{"s":"spectra","x":6199.80,"y":1.052},{"s":"spectra","x":6199.90,"y":1.064},{"s":"spectra","x":6199.99,"y":1.070},{"s":"spectra","x":6200.09,"y":1.089},{"s":"spectra","x":6200.18,"y":1.058},{"s":"spectra","x":6200.26,"y":1.114},{"s":"spectra","x":6200.33,"y":1.064},{"s":"spectra","x":6200.43,"y":1.083},{"s":"spectra","x":6200.52,"y":1.089},{"s":"spectra","x":6200.60,"y":1.064},{"s":"spectra","x":6200.71,"y":1.083},{"s":"spectra","x":6200.81,"y":1.058},{"s":"spectra","x":6200.91,"y":1.083},{"s":"spectra","x":6201.00,"y":1.114},{"s":"spectra","x":6201.10,"y":1.096},{"s":"spectra","x":6201.19,"y":1.064},{"s":"spectra","x":6201.29,"y":1.045},{"s":"spectra","x":6201.39,"y":1.020},{"s":"spectra","x":6201.48,"y":1.058},{"s":"spectra","x":6201.58,"y":1.052},{"s":"spectra","x":6201.68,"y":1.033},{"s":"spectra","x":6201.77,"y":1.045},{"s":"spectra","x":6201.87,"y":1.033},{"s":"spectra","x":6201.96,"y":1.070},{"s":"spectra","x":6202.06,"y":1.064},{"s":"spectra","x":6202.16,"y":1.045},{"s":"spectra","x":6202.25,"y":1.052},{"s":"spectra","x":6202.35,"y":1.039},{"s":"spectra","x":6202.45,"y":1.058},{"s":"spectra","x":6202.54,"y":1.064},{"s":"spectra","x":6202.64,"y":1.052},{"s":"spectra","x":6202.72,"y":1.033},{"s":"spectra","x":6202.78,"y":0.957},{"s":"spectra","x":6202.88,"y":0.819},{"s":"spectra","x":6202.98,"y":0.643},{"s":"spectra","x":6203.07,"y":0.530},{"s":"spectra","x":6203.17,"y":0.593},{"s":"spectra","x":6203.26,"y":0.756},{"s":"spectra","x":6203.36,"y":0.882},{"s":"spectra","x":6203.46,"y":0.945},{"s":"spectra","x":6203.55,"y":0.976},{"s":"spectra","x":6203.65,"y":0.980},{"s":"spectra","x":6203.74,"y":0.957},{"s":"spectra","x":6203.84,"y":0.907},{"s":"spectra","x":6203.94,"y":0.819},{"s":"spectra","x":6204.03,"y":0.681},{"s":"spectra","x":6204.13,"y":0.630},{"s":"spectra","x":6204.23,"y":0.743},{"s":"spectra","x":6204.32,"y":0.894},{"s":"spectra","x":6204.42,"y":0.989},{"s":"spectra","x":6204.51,"y":0.997},{"s":"spectra","x":6204.61,"y":1.014},{"s":"spectra","x":6204.71,"y":0.989},{"s":"spectra","x":6204.80,"y":0.963},{"s":"spectra","x":6204.90,"y":0.951},{"s":"spectra","x":6205.00,"y":0.945},{"s":"spectra","x":6205.09,"y":0.989},{"s":"spectra","x":6205.19,"y":1.058},{"s":"spectra","x":6205.28,"y":1.064},{"s":"spectra","x":6205.38,"y":1.039},{"s":"spectra","x":6205.48,"y":1.033},{"s":"spectra","x":6205.57,"y":1.039},{"s":"spectra","x":6205.67,"y":1.070},{"s":"spectra","x":6205.74,"y":1.114},{"s":"spectra","x":6205.81,"y":1.077},{"s":"spectra","x":6205.91,"y":1.070},{"s":"spectra","x":6206.01,"y":1.045},{"s":"spectra","x":6206.10,"y":1.052},{"s":"spectra","x":6206.20,"y":1.045},{"s":"spectra","x":6206.30,"y":1.058},{"s":"spectra","x":6206.39,"y":1.045},{"s":"spectra","x":6206.49,"y":1.045},{"s":"spectra","x":6206.58,"y":1.020},{"s":"spectra","x":6206.68,"y":1.001},{"s":"spectra","x":6206.78,"y":1.014},{"s":"spectra","x":6206.87,"y":1.020},{"s":"spectra","x":6206.97,"y":1.014},{"s":"spectra","x":6207.06,"y":1.039},{"s":"spectra","x":6207.16,"y":1.008},{"s":"spectra","x":6207.26,"y":1.033},{"s":"spectra","x":6207.35,"y":1.039},{"s":"spectra","x":6207.45,"y":1.070},{"s":"spectra","x":6207.55,"y":1.064},{"s":"spectra","x":6207.64,"y":1.083},{"s":"spectra","x":6207.74,"y":1.096},{"s":"spectra","x":6207.83,"y":1.089},{"s":"spectra","x":6207.93,"y":1.089},{"s":"spectra","x":6208.03,"y":1.077},{"s":"spectra","x":6208.12,"y":1.052},{"s":"spectra","x":6208.20,"y":1.008},{"s":"spectra","x":6208.30,"y":0.919},{"s":"spectra","x":6208.40,"y":0.888},{"s":"spectra","x":6208.49,"y":0.888},{"s":"spectra","x":6208.59,"y":0.945},{"s":"spectra","x":6208.69,"y":1.008},{"s":"spectra","x":6208.78,"y":1.020},{"s":"spectra","x":6208.88,"y":0.982},{"s":"spectra","x":6208.98,"y":0.932},{"s":"spectra","x":6209.07,"y":0.917},{"s":"spectra","x":6209.17,"y":0.957},{"s":"spectra","x":6209.27,"y":1.033},{"s":"spectra","x":6209.36,"y":1.070},{"s":"spectra","x":6209.43,"y":1.108},{"s":"spectra","x":6209.50,"y":1.102},{"s":"spectra","x":6209.56,"y":1.108},{"s":"spectra","x":6209.64,"y":1.083},{"s":"spectra","x":6209.71,"y":1.121},{"s":"spectra","x":6209.81,"y":1.102},{"s":"spectra","x":6209.90,"y":1.089},{"s":"spectra","x":6210.00,"y":1.077},
{"s":"fit","x":6198.00,"y":1.064},{"s":"fit","x":6198.12,"y":1.020},{"s":"fit","x":6198.26,"y":0.985},{"s":"fit","x":6198.40,"y":1.020},{"s":"fit","x":6198.55,"y":1.048},{"s":"fit","x":6198.74,"y":1.055},{"s":"fit","x":6198.93,"y":1.064},{"s":"fit","x":6199.08,"y":1.001},{"s":"fit","x":6199.25,"y":0.947},{"s":"fit","x":6199.41,"y":0.995},{"s":"fit","x":6199.56,"y":1.039},{"s":"fit","x":6199.70,"y":1.052},{"s":"fit","x":6199.90,"y":1.045},{"s":"fit","x":6200.14,"y":1.064},{"s":"fit","x":6200.33,"y":1.055},{"s":"fit","x":6200.52,"y":1.058},{"s":"fit","x":6200.76,"y":1.070},{"s":"fit","x":6201.00,"y":1.080},{"s":"fit","x":6201.19,"y":1.058},{"s":"fit","x":6201.39,"y":1.045},{"s":"fit","x":6201.68,"y":1.033},{"s":"fit","x":6201.96,"y":1.030},{"s":"fit","x":6202.21,"y":1.036},{"s":"fit","x":6202.43,"y":1.014},{"s":"fit","x":6202.64,"y":1.036},{"s":"fit","x":6202.73,"y":1.008},{"s":"fit","x":6202.85,"y":0.882},{"s":"fit","x":6202.95,"y":0.718},{"s":"fit","x":6203.06,"y":0.595},{"s":"fit","x":6203.17,"y":0.655},{"s":"fit","x":6203.31,"y":0.819},{"s":"fit","x":6203.46,"y":0.932},{"s":"fit","x":6203.58,"y":0.970},{"s":"fit","x":6203.70,"y":0.967},{"s":"fit","x":6203.79,"y":0.919},{"s":"fit","x":6203.94,"y":0.819},{"s":"fit","x":6204.06,"y":0.668},{"s":"fit","x":6204.16,"y":0.624},{"s":"fit","x":6204.27,"y":0.756},{"s":"fit","x":6204.37,"y":0.945},{"s":"fit","x":6204.51,"y":1.001},{"s":"fit","x":6204.61,"y":1.008},{"s":"fit","x":6204.74,"y":0.976},{"s":"fit","x":6204.85,"y":0.947},{"s":"fit","x":6204.95,"y":0.932},{"s":"fit","x":6205.09,"y":0.976},{"s":"fit","x":6205.28,"y":1.027},{"s":"fit","x":6205.53,"y":1.045},{"s":"fit","x":6205.77,"y":1.064},{"s":"fit","x":6205.96,"y":1.045},{"s":"fit","x":6206.15,"y":1.030},{"s":"fit","x":6206.34,"y":1.036},{"s":"fit","x":6206.58,"y":1.036},{"s":"fit","x":6206.78,"y":1.042},{"s":"fit","x":6206.97,"y":1.058},{"s":"fit","x":6207.16,"y":1.064},{"s":"fit","x":6207.35,"y":1.055},{"s":"fit","x":6207.59,"y":1.070},{"s":"fit","x":6207.83,"y":1.083},{"s":"fit","x":6208.03,"y":1.080},{"s":"fit","x":6208.20,"y":1.008},{"s":"fit","x":6208.36,"y":0.894},{"s":"fit","x":6208.46,"y":0.867},{"s":"fit","x":6208.56,"y":0.907},{"s":"fit","x":6208.70,"y":1.020},{"s":"fit","x":6208.85,"y":1.030},{"s":"fit","x":6208.99,"y":1.020},{"s":"fit","x":6209.13,"y":1.045},{"s":"fit","x":6209.37,"y":1.064},{"s":"fit","x":6209.61,"y":1.077},{"s":"fit","x":6209.76,"y":1.086},{"s":"fit","x":6209.90,"y":1.064},{"s":"fit","x":6210.00,"y":1.045}
],
"d7": [
{"s":"synthe","x":6190.00,"y":0.800},{"s":"synthe","x":6190.06,"y":0.762},{"s":"synthe","x":6190.13,"y":0.743},{"s":"synthe","x":6190.23,"y":0.787},{"s":"synthe","x":6190.33,"y":0.863},{"s":"synthe","x":6190.47,"y":0.901},{"s":"synthe","x":6190.62,"y":0.938},{"s":"synthe","x":6190.76,"y":0.970},{"s":"synthe","x":6190.91,"y":0.986},{"s":"synthe","x":6191.10,"y":0.991},{"s":"synthe","x":6191.29,"y":0.986},{"s":"synthe","x":6191.48,"y":0.966},{"s":"synthe","x":6191.63,"y":0.974},{"s":"synthe","x":6191.77,"y":0.976},{"s":"synthe","x":6191.92,"y":0.951},{"s":"synthe","x":6192.01,"y":0.875},{"s":"synthe","x":6192.11,"y":0.762},{"s":"synthe","x":6192.21,"y":0.662},{"s":"synthe","x":6192.30,"y":0.643},{"s":"synthe","x":6192.40,"y":0.636},{"s":"synthe","x":6192.49,"y":0.574},{"s":"synthe","x":6192.59,"y":0.517},{"s":"synthe","x":6192.69,"y":0.504},{"s":"synthe","x":6192.78,"y":0.586},{"s":"synthe","x":6192.88,"y":0.750},{"s":"synthe","x":6192.98,"y":0.888},{"s":"synthe","x":6193.12,"y":0.932},{"s":"synthe","x":6193.26,"y":0.945},{"s":"synthe","x":6193.41,"y":0.938},{"s":"synthe","x":6193.55,"y":0.932},{"s":"synthe","x":6193.70,"y":0.951},{"s":"synthe","x":6193.84,"y":0.963},{"s":"synthe","x":6193.99,"y":0.961},{"s":"synthe","x":6194.13,"y":0.963},{"s":"synthe","x":6194.32,"y":0.974},{"s":"synthe","x":6194.47,"y":0.951},{"s":"synthe","x":6194.61,"y":0.926},{"s":"synthe","x":6194.76,"y":0.938},{"s":"synthe","x":6194.95,"y":0.976},{"s":"synthe","x":6195.14,"y":0.978},{"s":"synthe","x":6195.34,"y":0.951},{"s":"synthe","x":6195.53,"y":0.913},{"s":"synthe","x":6195.67,"y":0.938},{"s":"synthe","x":6195.82,"y":0.963},{"s":"synthe","x":6195.96,"y":0.968},{"s":"synthe","x":6196.15,"y":0.969},{"s":"synthe","x":6196.30,"y":0.938},{"s":"synthe","x":6196.44,"y":0.907},{"s":"synthe","x":6196.57,"y":0.888},{"s":"synthe","x":6196.68,"y":0.907},{"s":"synthe","x":6196.83,"y":0.951},{"s":"synthe","x":6197.02,"y":0.961},{"s":"synthe","x":6197.17,"y":0.957},{"s":"synthe","x":6197.31,"y":0.966},{"s":"synthe","x":6197.45,"y":0.957},{"s":"synthe","x":6197.60,"y":0.976},{"s":"synthe","x":6197.74,"y":0.963},{"s":"synthe","x":6197.94,"y":0.969},{"s":"synthe","x":6198.13,"y":0.978},{"s":"synthe","x":6198.32,"y":0.986},{"s":"synthe","x":6198.47,"y":0.969},{"s":"synthe","x":6198.61,"y":0.961},{"s":"synthe","x":6198.80,"y":0.969},{"s":"synthe","x":6199.00,"y":0.953},{"s":"synthe","x":6199.19,"y":0.957},{"s":"synthe","x":6199.38,"y":0.961},{"s":"synthe","x":6199.57,"y":0.957},{"s":"synthe","x":6199.72,"y":0.953},{"s":"synthe","x":6199.86,"y":0.969},{"s":"synthe","x":6199.98,"y":0.938},{"s":"synthe","x":6200.10,"y":0.787},{"s":"synthe","x":6200.23,"y":0.649},{"s":"synthe","x":6200.34,"y":0.605},{"s":"synthe","x":6200.46,"y":0.662},{"s":"synthe","x":6200.59,"y":0.838},{"s":"synthe","x":6200.73,"y":0.938},{"s":"synthe","x":6200.87,"y":0.957},{"s":"synthe","x":6201.02,"y":0.951},{"s":"synthe","x":6201.17,"y":0.888},{"s":"synthe","x":6201.31,"y":0.762},{"s":"synthe","x":6201.44,"y":0.699},{"s":"synthe","x":6201.55,"y":0.762},{"s":"synthe","x":6201.69,"y":0.901},{"s":"synthe","x":6201.84,"y":0.948},{"s":"synthe","x":6201.93,"y":0.940},{"s":"synthe","x":6202.00,"y":0.926},
{"s":"atm","x":6190.00,"y":1.0},{"s":"atm","x":6196.00,"y":1.0},{"s":"atm","x":6202.00,"y":1.0},
{"s":"dib","x":6190.00,"y":0.938},{"s":"dib","x":6190.09,"y":0.969},{"s":"dib","x":6190.23,"y":0.978},{"s":"dib","x":6190.62,"y":0.982},{"s":"dib","x":6191.10,"y":0.986},{"s":"dib","x":6192.06,"y":0.989},{"s":"dib","x":6193.02,"y":0.991},{"s":"dib","x":6193.99,"y":0.991},{"s":"dib","x":6194.76,"y":0.994},{"s":"dib","x":6194.95,"y":0.991},{"s":"dib","x":6195.14,"y":0.982},{"s":"dib","x":6195.34,"y":0.978},{"s":"dib","x":6195.53,"y":0.986},{"s":"dib","x":6195.72,"y":0.991},{"s":"dib","x":6195.91,"y":0.986},{"s":"dib","x":6196.11,"y":0.969},{"s":"dib","x":6196.30,"y":0.938},{"s":"dib","x":6196.51,"y":0.916},{"s":"dib","x":6196.68,"y":0.932},{"s":"dib","x":6196.88,"y":0.976},{"s":"dib","x":6197.07,"y":0.992},{"s":"dib","x":6197.45,"y":0.995},{"s":"dib","x":6198.32,"y":0.995},{"s":"dib","x":6199.28,"y":0.994},{"s":"dib","x":6200.25,"y":0.991},{"s":"dib","x":6200.73,"y":0.991},{"s":"dib","x":6201.11,"y":0.986},{"s":"dib","x":6201.50,"y":0.980},{"s":"dib","x":6202.00,"y":0.980}
],
"d8": [
{"s":"synthe","x":6198.00,"y":0.957},{"s":"synthe","x":6198.12,"y":0.919},{"s":"synthe","x":6198.26,"y":0.898},{"s":"synthe","x":6198.40,"y":0.926},{"s":"synthe","x":6198.55,"y":0.951},{"s":"synthe","x":6198.79,"y":0.961},{"s":"synthe","x":6198.93,"y":0.963},{"s":"synthe","x":6199.08,"y":0.926},{"s":"synthe","x":6199.25,"y":0.869},{"s":"synthe","x":6199.41,"y":0.913},{"s":"synthe","x":6199.56,"y":0.951},{"s":"synthe","x":6199.75,"y":0.961},{"s":"synthe","x":6199.94,"y":0.951},{"s":"synthe","x":6200.18,"y":0.976},{"s":"synthe","x":6200.43,"y":0.957},{"s":"synthe","x":6200.71,"y":0.969},{"s":"synthe","x":6201.00,"y":0.986},{"s":"synthe","x":6201.19,"y":0.976},{"s":"synthe","x":6201.34,"y":0.957},{"s":"synthe","x":6201.58,"y":0.966},{"s":"synthe","x":6201.82,"y":0.948},{"s":"synthe","x":6202.06,"y":0.957},{"s":"synthe","x":6202.25,"y":0.951},{"s":"synthe","x":6202.40,"y":0.948},{"s":"synthe","x":6202.52,"y":0.963},{"s":"synthe","x":6202.64,"y":0.957},{"s":"synthe","x":6202.75,"y":0.875},{"s":"synthe","x":6202.88,"y":0.712},{"s":"synthe","x":6203.04,"y":0.580},{"s":"synthe","x":6203.17,"y":0.662},{"s":"synthe","x":6203.31,"y":0.813},{"s":"synthe","x":6203.49,"y":0.926},{"s":"synthe","x":6203.68,"y":0.951},{"s":"synthe","x":6203.79,"y":0.926},{"s":"synthe","x":6203.91,"y":0.813},{"s":"synthe","x":6204.03,"y":0.674},{"s":"synthe","x":6204.15,"y":0.605},{"s":"synthe","x":6204.25,"y":0.724},{"s":"synthe","x":6204.37,"y":0.888},{"s":"synthe","x":6204.54,"y":0.941},{"s":"synthe","x":6204.71,"y":0.926},{"s":"synthe","x":6204.85,"y":0.882},{"s":"synthe","x":6204.97,"y":0.873},{"s":"synthe","x":6205.09,"y":0.901},{"s":"synthe","x":6205.24,"y":0.945},{"s":"synthe","x":6205.43,"y":0.976},{"s":"synthe","x":6205.62,"y":0.986},{"s":"synthe","x":6205.77,"y":0.991},{"s":"synthe","x":6205.91,"y":0.969},{"s":"synthe","x":6206.10,"y":0.957},{"s":"synthe","x":6206.30,"y":0.951},{"s":"synthe","x":6206.44,"y":0.961},{"s":"synthe","x":6206.63,"y":0.951},{"s":"synthe","x":6206.82,"y":0.963},{"s":"synthe","x":6207.02,"y":0.982},{"s":"synthe","x":6207.21,"y":0.969},{"s":"synthe","x":6207.40,"y":0.969},{"s":"synthe","x":6207.59,"y":0.982},{"s":"synthe","x":6207.79,"y":0.986},{"s":"synthe","x":6207.93,"y":0.991},{"s":"synthe","x":6208.05,"y":0.982},{"s":"synthe","x":6208.17,"y":0.926},{"s":"synthe","x":6208.30,"y":0.826},{"s":"synthe","x":6208.41,"y":0.785},{"s":"synthe","x":6208.53,"y":0.826},{"s":"synthe","x":6208.64,"y":0.926},{"s":"synthe","x":6208.77,"y":0.945},{"s":"synthe","x":6208.89,"y":0.938},{"s":"synthe","x":6208.99,"y":0.951},{"s":"synthe","x":6209.19,"y":0.976},{"s":"synthe","x":6209.38,"y":0.986},{"s":"synthe","x":6209.57,"y":0.986},{"s":"synthe","x":6209.76,"y":0.989},{"s":"synthe","x":6209.90,"y":0.982},{"s":"synthe","x":6210.00,"y":0.951},
{"s":"atm","x":6198.00,"y":1.0},{"s":"atm","x":6204.00,"y":1.0},{"s":"atm","x":6210.00,"y":1.0},
{"s":"dib","x":6198.00,"y":0.957},{"s":"dib","x":6198.07,"y":0.982},{"s":"dib","x":6198.16,"y":0.991},{"s":"dib","x":6198.40,"y":0.994},{"s":"dib","x":6198.89,"y":0.991},{"s":"dib","x":6199.37,"y":0.989},{"s":"dib","x":6199.85,"y":0.986},{"s":"dib","x":6200.91,"y":0.986},{"s":"dib","x":6201.29,"y":0.982},{"s":"dib","x":6201.77,"y":0.978},{"s":"dib","x":6202.25,"y":0.969},{"s":"dib","x":6202.64,"y":0.963},{"s":"dib","x":6202.93,"y":0.951},{"s":"dib","x":6203.22,"y":0.932},{"s":"dib","x":6203.50,"y":0.919},{"s":"dib","x":6203.75,"y":0.916},{"s":"dib","x":6203.99,"y":0.923},{"s":"dib","x":6204.18,"y":0.941},{"s":"dib","x":6204.37,"y":0.957},{"s":"dib","x":6204.66,"y":0.963},{"s":"dib","x":6205.14,"y":0.963},{"s":"dib","x":6205.62,"y":0.966},{"s":"dib","x":6206.10,"y":0.974},{"s":"dib","x":6206.58,"y":0.976},{"s":"dib","x":6207.06,"y":0.978},{"s":"dib","x":6207.55,"y":0.982},{"s":"dib","x":6208.03,"y":0.986},{"s":"dib","x":6208.99,"y":0.986},{"s":"dib","x":6210.00,"y":0.985}
],
"a1": [{"t":"Fe","x":6278.69,"y1":0.752,"y2":0.670,"ty":0.616},{"t":"Fe","x":6288.98,"y1":0.900,"y2":0.865,"ty":0.808}],
"a2": [{"t":"Fe","x":6283.10,"y1":0.466,"y2":0.440,"ty":0.390},{"t":"Fe","x":6293.46,"y1":0.782,"y2":0.751,"ty":0.691}],
"a3": [{"t":"Fe","x":6278.69,"y1":0.734,"y2":0.665,"ty":0.609},{"t":"Fe","x":6288.96,"y1":0.884,"y2":0.853,"ty":0.797}],
"a4": [{"t":"Fe","x":6283.13,"y1":0.427,"y2":0.371,"ty":0.327},{"t":"Fe","x":6293.46,"y1":0.659,"y2":0.572,"ty":0.511}],
"a5": [{"t":"Ni","x":6192.32,"y1":0.668,"y2":0.611,"ty":0.563},{"t":"Fe","x":6192.66,"y1":0.545,"y2":0.517,"ty":0.457},{"t":"V","x":6200.32,"y1":0.662,"y2":0.649,"ty":0.595},{"t":"Fe","x":6201.44,"y1":0.718,"y2":0.649,"ty":0.595}],
"a6": [{"t":"V","x":6203.05,"y1":0.517,"y2":0.507,"ty":0.457},{"t":"Fe","x":6204.15,"y1":0.611,"y2":0.536,"ty":0.479},{"t":"Ni","x":6208.44,"y1":0.850,"y2":0.787,"ty":0.737}],
"a7": [{"t":"Ni","x":6192.30,"y1":0.636,"y2":0.574,"ty":0.513},{"t":"Fe","x":6192.67,"y1":0.762,"y2":0.511,"ty":0.821},{"t":"V","x":6200.36,"y1":0.806,"y2":0.611,"ty":0.863},{"t":"Fe","x":6201.43,"y1":0.689,"y2":0.611,"ty":0.555}],
"a8": [{"t":"V","x":6203.04,"y1":0.567,"y2":0.504,"ty":0.450},{"t":"Fe","x":6204.15,"y1":0.592,"y2":0.517,"ty":0.460},{"t":"Ni","x":6208.41,"y1":0.787,"y2":0.747,"ty":0.693}]
},
"spacing": 50,
"resolve": {"scale": {"x": "independent", "y": "independent", "color": "independent"}, "legend": {"color": "independent"}},
"vconcat": [
{"spacing": 22, "resolve": {"scale": {"x": "independent", "y": "independent", "color": "independent"}, "legend": {"color": "independent"}}, "vconcat": [
 {"spacing": 144, "resolve": {"scale": {"x": "independent", "y": "independent", "color": "independent"}, "legend": {"color": "independent"}}, "hconcat": [
    {"width": 714, "height": 214, "layer": [
      {"data": {"name": "d1"}, "mark": {"type": "line", "clip": true, "strokeWidth": 1.8, "interpolate": "monotone"},
       "encoding": {"x": {"field": "x", "type": "quantitative", "scale": {"domain": [6274.92, 6294], "nice": false, "zero": false}, "axis": {"values": [6275, 6280, 6285, 6290], "format": "d", "title": "Wavelength (A)"}},
        "y": {"field": "y", "type": "quantitative", "scale": {"domain": [0.393, 1.2], "nice": false, "zero": false}, "axis": {"values": [0.4, 0.6, 0.8, 1.0, 1.2], "format": ".1f", "title": "Flux (arbitrary unit)"}},
        "color": {"field": "s", "type": "nominal", "scale": {"domain": ["spectra", "fit"], "range": ["#ff0000", "#6a10dc"]}, "legend": {"title": null, "legendX": 478, "legendY": 174, "labelExpr": "datum.label + '_mu_ST393009_hr13'"}}}},
      {"data": {"name": "a1"}, "mark": {"type": "rule", "color": "#555555", "strokeWidth": 1},
       "encoding": {"x": {"field": "x", "type": "quantitative"}, "y": {"field": "y1", "type": "quantitative"}, "y2": {"field": "y2"}}},
      {"data": {"name": "a1"}, "mark": {"type": "text", "font": "Liberation Sans", "fontSize": 21, "color": "#111111", "baseline": "middle"},
       "encoding": {"x": {"field": "x", "type": "quantitative"}, "y": {"field": "ty", "type": "quantitative"}, "text": {"field": "t"}}}
    ]},
    {"width": 714, "height": 214, "layer": [
      {"data": {"name": "d2"}, "mark": {"type": "line", "clip": true, "strokeWidth": 1.8, "interpolate": "monotone"},
       "encoding": {"x": {"field": "x", "type": "quantitative", "scale": {"domain": [6274.87, 6294], "nice": false, "zero": false}, "axis": {"values": [6275, 6280, 6285, 6290], "format": "d", "title": "Wavelength (A)"}},
        "y": {"field": "y", "type": "quantitative", "scale": {"domain": [0.393, 1.2], "nice": false, "zero": false}, "axis": {"values": [0.4, 0.6, 0.8, 1.0, 1.2], "format": ".1f", "title": "Flux (arbitrary unit)"}},
        "color": {"field": "s", "type": "nominal", "scale": {"domain": ["spectra", "fit"], "range": ["#ff0000", "#6a10dc"]}, "legend": {"title": null, "legendX": 482, "legendY": 174, "labelExpr": "datum.label + '_mu_ST89667_hr13'"}}}},
      {"data": {"name": "a2"}, "mark": {"type": "rule", "color": "#555555", "strokeWidth": 1},
       "encoding": {"x": {"field": "x", "type": "quantitative"}, "y": {"field": "y1", "type": "quantitative"}, "y2": {"field": "y2"}}},
      {"data": {"name": "a2"}, "transform": [{"filter": "datum.ty < 0.42"}], "mark": {"type": "text", "font": "Liberation Sans", "fontSize": 21, "color": "#ffffff", "stroke": "#ffffff", "strokeWidth": 6, "baseline": "middle"},
       "encoding": {"x": {"field": "x", "type": "quantitative"}, "y": {"field": "ty", "type": "quantitative"}, "text": {"field": "t"}}},
      {"data": {"name": "a2"}, "mark": {"type": "text", "font": "Liberation Sans", "fontSize": 21, "color": "#111111", "baseline": "middle"},
       "encoding": {"x": {"field": "x", "type": "quantitative"}, "y": {"field": "ty", "type": "quantitative"}, "text": {"field": "t"}}}
    ]}
 ]},
 {"spacing": 102, "resolve": {"scale": {"x": "independent", "y": "independent", "color": "independent"}, "legend": {"color": "independent"}}, "hconcat": [
    {"width": 714, "height": 214, "title": {"text": "ST393009, DIB 6280 Å", "dx": -56}, "layer": [
      {"data": {"name": "d3"}, "mark": {"type": "line", "clip": true, "strokeWidth": 1.8, "interpolate": "monotone"},
       "encoding": {"x": {"field": "x", "type": "quantitative", "scale": {"domain": [6274.92, 6294], "nice": false, "zero": false}, "axis": {"values": [6275, 6280, 6285, 6290], "format": "d", "title": "Wavelength (A)"}},
        "y": {"field": "y", "type": "quantitative", "scale": {"domain": [0.393, 1.2], "nice": false, "zero": false}, "axis": {"values": [0.4, 0.6, 0.8, 1.0, 1.2], "format": ".1f", "title": "Flux (arbitrary unit)"}},
        "color": {"field": "s", "type": "nominal", "scale": {"domain": ["synthe", "atm", "dib"], "range": ["#b07f14", "#0000ee", "#127812"]}, "legend": {"title": null, "legendX": 477, "legendY": 126, "labelExpr": "datum.label + '_muc_ST393009_hr13'"}}}},
      {"data": {"name": "a3"}, "mark": {"type": "rule", "color": "#555555", "strokeWidth": 1},
       "encoding": {"x": {"field": "x", "type": "quantitative"}, "y": {"field": "y1", "type": "quantitative"}, "y2": {"field": "y2"}}},
      {"data": {"name": "a3"}, "mark": {"type": "text", "font": "Liberation Sans", "fontSize": 21, "color": "#111111", "baseline": "middle"},
       "encoding": {"x": {"field": "x", "type": "quantitative"}, "y": {"field": "ty", "type": "quantitative"}, "text": {"field": "t"}}}
    ]},
    {"width": 714, "height": 214, "title": {"text": "ST89667, DIB 6280 Å", "dx": -33}, "layer": [
      {"data": {"name": "d4"}, "mark": {"type": "line", "clip": true, "strokeWidth": 1.8, "interpolate": "monotone"},
       "encoding": {"x": {"field": "x", "type": "quantitative", "scale": {"domain": [6274.87, 6294], "nice": false, "zero": false}, "axis": {"values": [6275, 6280, 6285, 6290], "format": "d", "title": "Wavelength (A)"}},
        "y": {"field": "y", "type": "quantitative", "scale": {"domain": [0.393, 1.2], "nice": false, "zero": false}, "axis": {"values": [0.4, 0.6, 0.8, 1.0, 1.2], "format": ".1f", "title": "Flux (arbitrary unit)"}},
        "color": {"field": "s", "type": "nominal", "scale": {"domain": ["synthe", "atm", "dib"], "range": ["#b07f14", "#0000ee", "#127812"]}, "legend": {"title": null, "legendX": 481, "legendY": 126, "labelExpr": "datum.label + '_muc_ST89667_hr13'"}}}},
      {"data": {"name": "a4"}, "mark": {"type": "rule", "color": "#555555", "strokeWidth": 1},
       "encoding": {"x": {"field": "x", "type": "quantitative"}, "y": {"field": "y1", "type": "quantitative"}, "y2": {"field": "y2"}}},
      {"data": {"name": "a4"}, "transform": [{"filter": "datum.ty < 0.42"}], "mark": {"type": "text", "font": "Liberation Sans", "fontSize": 21, "color": "#ffffff", "stroke": "#ffffff", "strokeWidth": 6, "baseline": "middle"},
       "encoding": {"x": {"field": "x", "type": "quantitative"}, "y": {"field": "ty", "type": "quantitative"}, "text": {"field": "t"}}},
      {"data": {"name": "a4"}, "mark": {"type": "text", "font": "Liberation Sans", "fontSize": 21, "color": "#111111", "baseline": "middle"},
       "encoding": {"x": {"field": "x", "type": "quantitative"}, "y": {"field": "ty", "type": "quantitative"}, "text": {"field": "t"}}}
    ]}
 ]}
]},
{"spacing": 22, "resolve": {"scale": {"x": "independent", "y": "independent", "color": "independent"}, "legend": {"color": "independent"}}, "vconcat": [
 {"spacing": 143, "resolve": {"scale": {"x": "independent", "y": "independent", "color": "independent"}, "legend": {"color": "independent"}}, "hconcat": [
    {"width": 714, "height": 214, "layer": [
      {"data": {"name": "d5"}, "mark": {"type": "line", "clip": true, "strokeWidth": 1.8, "interpolate": "monotone"},
       "encoding": {"x": {"field": "x", "type": "quantitative", "scale": {"domain": [6189.95, 6202], "nice": false, "zero": false}, "axis": {"values": [6190, 6192, 6194, 6196, 6198, 6200, 6202], "format": "d", "title": "Wavelength (A)"}},
        "y": {"field": "y", "type": "quantitative", "scale": {"domain": [0.393, 1.2], "nice": false, "zero": false}, "axis": {"values": [0.4, 0.6, 0.8, 1.0, 1.2], "format": ".1f", "title": "Flux (arbitrary unit)"}},
        "color": {"field": "s", "type": "nominal", "scale": {"domain": ["spectra", "fit"], "range": ["#ff0000", "#6a10dc"]}, "legend": {"title": null, "legendX": 478, "legendY": 177, "labelExpr": "datum.label + '_mu_ST234898_hr13'"}}}},
      {"data": {"name": "a5"}, "mark": {"type": "rule", "color": "#555555", "strokeWidth": 1},
       "encoding": {"x": {"field": "x", "type": "quantitative"}, "y": {"field": "y1", "type": "quantitative"}, "y2": {"field": "y2"}}},
      {"data": {"name": "a5"}, "mark": {"type": "text", "font": "Liberation Sans", "fontSize": 21, "color": "#111111", "baseline": "middle"},
       "encoding": {"x": {"field": "x", "type": "quantitative"}, "y": {"field": "ty", "type": "quantitative"}, "text": {"field": "t"}}}
    ]},
    {"width": 714, "height": 214, "layer": [
      {"data": {"name": "d6"}, "mark": {"type": "line", "clip": true, "strokeWidth": 1.8, "interpolate": "monotone"},
       "encoding": {"x": {"field": "x", "type": "quantitative", "scale": {"domain": [6197.92, 6210], "nice": false, "zero": false}, "axis": {"values": [6198, 6200, 6202, 6204, 6206, 6208, 6210], "format": "d", "title": "Wavelength (A)"}},
        "y": {"field": "y", "type": "quantitative", "scale": {"domain": [0.393, 1.2], "nice": false, "zero": false}, "axis": {"values": [0.4, 0.6, 0.8, 1.0, 1.2], "format": ".1f", "title": "Flux (arbitrary unit)"}},
        "color": {"field": "s", "type": "nominal", "scale": {"domain": ["spectra", "fit"], "range": ["#ff0000", "#6a10dc"]}, "legend": {"title": null, "legendX": 477, "legendY": 164, "labelExpr": "datum.label + '_mu_ST268068_hr13'"}}}},
      {"data": {"name": "a6"}, "mark": {"type": "rule", "color": "#555555", "strokeWidth": 1},
       "encoding": {"x": {"field": "x", "type": "quantitative"}, "y": {"field": "y1", "type": "quantitative"}, "y2": {"field": "y2"}}},
      {"data": {"name": "a6"}, "mark": {"type": "text", "font": "Liberation Sans", "fontSize": 21, "color": "#111111", "baseline": "middle"},
       "encoding": {"x": {"field": "x", "type": "quantitative"}, "y": {"field": "ty", "type": "quantitative"}, "text": {"field": "t"}}}
    ]}
 ]},
 {"spacing": 102, "resolve": {"scale": {"x": "independent", "y": "independent", "color": "independent"}, "legend": {"color": "independent"}}, "hconcat": [
    {"width": 714, "height": 214, "title": {"text": "ST234898, DIB 6196 Å", "dx": -56}, "layer": [
      {"data": {"name": "d7"}, "mark": {"type": "line", "clip": true, "strokeWidth": 1.8, "interpolate": "monotone"},
       "encoding": {"x": {"field": "x", "type": "quantitative", "scale": {"domain": [6189.95, 6202], "nice": false, "zero": false}, "axis": {"values": [6190, 6192, 6194, 6196, 6198, 6200, 6202], "format": "d", "title": "Wavelength (A)"}},
        "y": {"field": "y", "type": "quantitative", "scale": {"domain": [0.393, 1.2], "nice": false, "zero": false}, "axis": {"values": [0.4, 0.6, 0.8, 1.0, 1.2], "format": ".1f", "title": "Flux (arbitrary unit)"}},
        "color": {"field": "s", "type": "nominal", "scale": {"domain": ["synthe", "atm", "dib"], "range": ["#b07f14", "#0000ee", "#127812"]}, "legend": {"title": null, "legendX": 469, "legendY": 164, "labelExpr": "datum.label + '_muc_ST234898_hr13'"}}}},
      {"data": {"name": "a7"}, "mark": {"type": "rule", "color": "#555555", "strokeWidth": 1},
       "encoding": {"x": {"field": "x", "type": "quantitative"}, "y": {"field": "y1", "type": "quantitative"}, "y2": {"field": "y2"}}},
      {"data": {"name": "a7"}, "mark": {"type": "text", "font": "Liberation Sans", "fontSize": 21, "color": "#111111", "baseline": "middle"},
       "encoding": {"x": {"field": "x", "type": "quantitative"}, "y": {"field": "ty", "type": "quantitative"}, "text": {"field": "t"}}}
    ]},
    {"width": 714, "height": 214, "title": {"text": "ST268068, DIB 6204 Å", "dx": -55}, "layer": [
      {"data": {"name": "d8"}, "mark": {"type": "line", "clip": true, "strokeWidth": 1.8, "interpolate": "monotone"},
       "encoding": {"x": {"field": "x", "type": "quantitative", "scale": {"domain": [6197.92, 6210], "nice": false, "zero": false}, "axis": {"values": [6198, 6200, 6202, 6204, 6206, 6208, 6210], "format": "d", "title": "Wavelength (A)"}},
        "y": {"field": "y", "type": "quantitative", "scale": {"domain": [0.393, 1.2], "nice": false, "zero": false}, "axis": {"values": [0.4, 0.6, 0.8, 1.0, 1.2], "format": ".1f", "title": "Flux (arbitrary unit)"}},
        "color": {"field": "s", "type": "nominal", "scale": {"domain": ["synthe", "atm", "dib"], "range": ["#b07f14", "#0000ee", "#127812"]}, "legend": {"title": null, "legendX": 487, "legendY": 153, "labelExpr": "datum.label + '_muc_ST268068_hr13'"}}}},
      {"data": {"name": "a8"}, "mark": {"type": "rule", "color": "#555555", "strokeWidth": 1},
       "encoding": {"x": {"field": "x", "type": "quantitative"}, "y": {"field": "y1", "type": "quantitative"}, "y2": {"field": "y2"}}},
      {"data": {"name": "a8"}, "mark": {"type": "text", "font": "Liberation Sans", "fontSize": 21, "color": "#111111", "baseline": "middle"},
       "encoding": {"x": {"field": "x", "type": "quantitative"}, "y": {"field": "ty", "type": "quantitative"}, "text": {"field": "t"}}}
    ]}
 ]}
]}
]
}
